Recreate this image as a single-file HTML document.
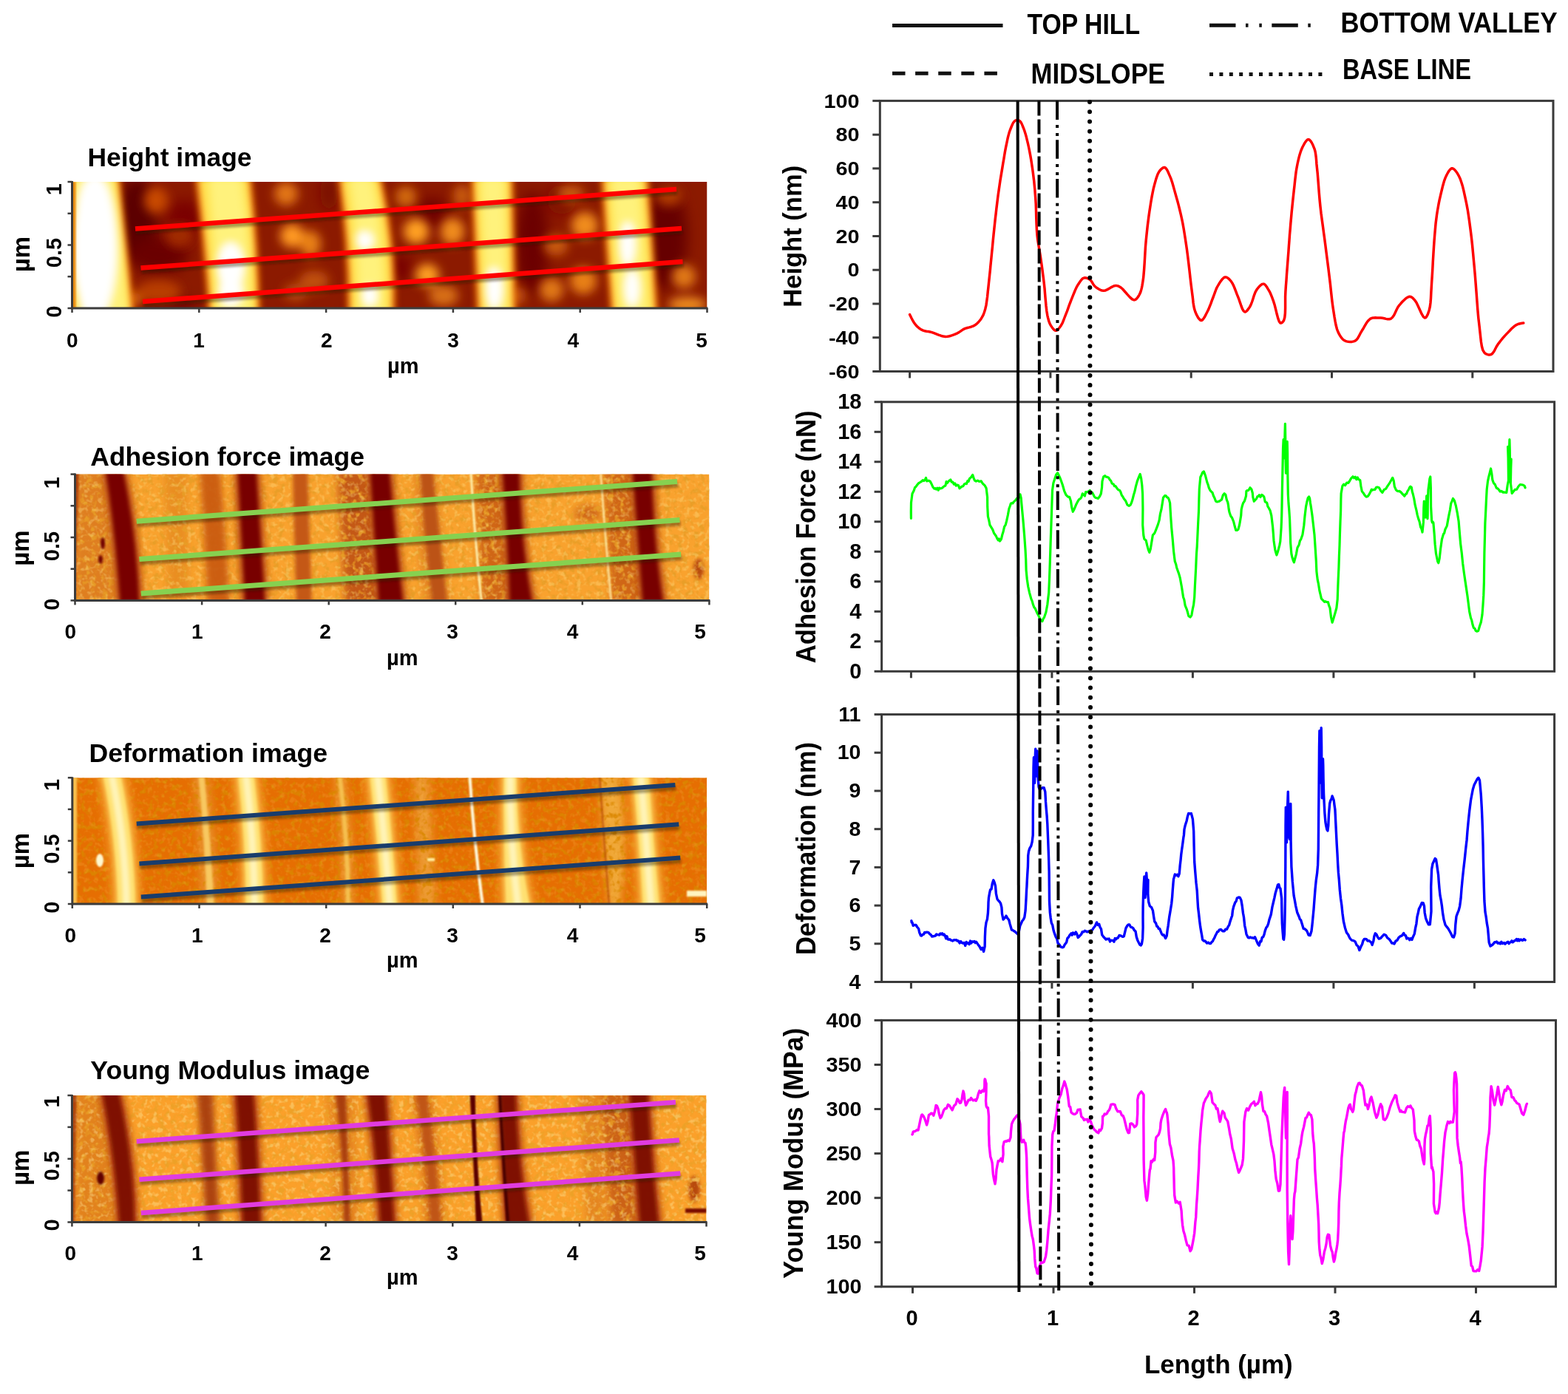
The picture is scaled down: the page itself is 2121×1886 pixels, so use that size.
<!DOCTYPE html>
<html><head><meta charset="utf-8"><title>AFM profiles</title><style>
html,body{margin:0;padding:0;background:#fff;width:2121px;height:1886px;overflow:hidden}
svg{display:block}
</style></head><body>
<svg width="2121" height="1886" viewBox="0 0 2121 1886" font-family='"Liberation Sans", Arial, sans-serif'>
<defs>
<filter id="blur1" x="-30%" y="-30%" width="160%" height="160%"><feGaussianBlur stdDeviation="0.8"/></filter>
<filter id="blur2" x="-30%" y="-30%" width="160%" height="160%"><feGaussianBlur stdDeviation="1.6"/></filter>
<filter id="blur3" x="-30%" y="-30%" width="160%" height="160%"><feGaussianBlur stdDeviation="2.6"/></filter>
<filter id="blur4" x="-30%" y="-30%" width="160%" height="160%"><feGaussianBlur stdDeviation="4"/></filter>
<filter id="blur5" x="-30%" y="-30%" width="160%" height="160%"><feGaussianBlur stdDeviation="5.5"/></filter>
<filter id="blur7" x="-30%" y="-30%" width="160%" height="160%"><feGaussianBlur stdDeviation="7"/></filter>
<filter id="blur8" x="-30%" y="-30%" width="160%" height="160%"><feGaussianBlur stdDeviation="9"/></filter>
<filter id="texd3" x="0" y="0" width="100%" height="100%"><feTurbulence type="fractalNoise" baseFrequency="0.13" numOctaves="2" seed="3"/><feColorMatrix type="matrix" values="0 0 0 0 0.8  0 0 0 0 0.34  0 0 0 0 0.02  4.2 0 0 0 -2.05"/></filter>
<filter id="texl3" x="0" y="0" width="100%" height="100%"><feTurbulence type="fractalNoise" baseFrequency="0.15" numOctaves="2" seed="13"/><feColorMatrix type="matrix" values="0 0 0 0 1  0 0 0 0 0.78  0 0 0 0 0.26  0 4.2 0 0 -2.1"/></filter>
<filter id="texd5" x="0" y="0" width="100%" height="100%"><feTurbulence type="fractalNoise" baseFrequency="0.13" numOctaves="2" seed="5"/><feColorMatrix type="matrix" values="0 0 0 0 0.7  0 0 0 0 0.24  0 0 0 0 0.0  4.2 0 0 0 -2.05"/></filter>
<filter id="texl5" x="0" y="0" width="100%" height="100%"><feTurbulence type="fractalNoise" baseFrequency="0.15" numOctaves="2" seed="15"/><feColorMatrix type="matrix" values="0 0 0 0 1  0 0 0 0 0.58  0 0 0 0 0.1  0 4.2 0 0 -2.1"/></filter>
<filter id="texd7" x="0" y="0" width="100%" height="100%"><feTurbulence type="fractalNoise" baseFrequency="0.13" numOctaves="2" seed="7"/><feColorMatrix type="matrix" values="0 0 0 0 0.82  0 0 0 0 0.36  0 0 0 0 0.02  4.2 0 0 0 -2.05"/></filter>
<filter id="texl7" x="0" y="0" width="100%" height="100%"><feTurbulence type="fractalNoise" baseFrequency="0.15" numOctaves="2" seed="17"/><feColorMatrix type="matrix" values="0 0 0 0 1  0 0 0 0 0.82  0 0 0 0 0.34  0 4.2 0 0 -2.1"/></filter>
<filter id="shadow" x="-10%" y="-100%" width="120%" height="300%"><feGaussianBlur stdDeviation="1.6"/></filter>
</defs>
<rect width="2121" height="1886" fill="#ffffff"/>
<clipPath id="clip1"><rect x="97.5" y="246" width="859" height="171"/></clipPath>
<g clip-path="url(#clip1)">
<rect x="97.5" y="246" width="859.0" height="171" fill="#8c1a00"/>
<g filter="url(#blur8)">
<ellipse cx="185" cy="300" rx="28" ry="60" fill="#5c0000"/>
<ellipse cx="215" cy="345" rx="40" ry="25" fill="#6a0000"/>
<ellipse cx="250" cy="300" rx="25" ry="30" fill="#7a0600"/>
<ellipse cx="445" cy="260" rx="12" ry="25" fill="#7a0800"/>
<ellipse cx="585" cy="287" rx="20" ry="20" fill="#700000"/>
<ellipse cx="541" cy="362" rx="16" ry="18" fill="#780400"/>
<ellipse cx="720" cy="330" rx="22" ry="70" fill="#6c0000"/>
<ellipse cx="760" cy="270" rx="20" ry="20" fill="#800800"/>
<ellipse cx="900" cy="320" rx="30" ry="70" fill="#660000"/>
<ellipse cx="500" cy="420" rx="30" ry="8" fill="#7a0800"/>
<ellipse cx="230" cy="415" rx="40" ry="10" fill="#700000"/>
</g>
<g filter="url(#blur7)">
<ellipse cx="211" cy="271" rx="16" ry="18" fill="#c84a04"/>
<ellipse cx="243" cy="319" rx="20" ry="16" fill="#a02c00"/>
<ellipse cx="215" cy="395" rx="30" ry="16" fill="#b83c04"/>
<ellipse cx="180" cy="405" rx="12" ry="10" fill="#d06008"/>
<ellipse cx="387" cy="262" rx="16" ry="16" fill="#e27614"/>
<ellipse cx="395" cy="319" rx="16" ry="16" fill="#ff9a20"/>
<ellipse cx="420" cy="330" rx="14" ry="18" fill="#e88018"/>
<ellipse cx="425" cy="380" rx="20" ry="14" fill="#c05008"/>
<ellipse cx="400" cy="395" rx="16" ry="12" fill="#b84808"/>
<ellipse cx="563" cy="313" rx="17" ry="17" fill="#ffa024"/>
<ellipse cx="612" cy="313" rx="16" ry="18" fill="#f08c1c"/>
<ellipse cx="578" cy="372" rx="16" ry="15" fill="#ffa024"/>
<ellipse cx="549" cy="266" rx="14" ry="14" fill="#d26a10"/>
<ellipse cx="600" cy="400" rx="20" ry="14" fill="#d87012"/>
<ellipse cx="625" cy="265" rx="12" ry="16" fill="#c85a0c"/>
<ellipse cx="791" cy="305" rx="18" ry="18" fill="#f08c1c"/>
<ellipse cx="752" cy="332" rx="16" ry="14" fill="#c85a0c"/>
<ellipse cx="789" cy="380" rx="18" ry="18" fill="#e88018"/>
<ellipse cx="746" cy="392" rx="16" ry="16" fill="#e07814"/>
<ellipse cx="772" cy="262" rx="18" ry="12" fill="#c85a0c"/>
<ellipse cx="700" cy="400" rx="12" ry="12" fill="#c05008"/>
<ellipse cx="925" cy="374" rx="16" ry="16" fill="#e07814"/>
<ellipse cx="930" cy="412" rx="26" ry="10" fill="#f09020"/>
<ellipse cx="905" cy="265" rx="18" ry="14" fill="#b03a04"/>
<ellipse cx="300" cy="410" rx="14" ry="8" fill="#c05008"/>
</g>
<g filter="url(#blur4)">
<path d="M92,240 L162,240 Q172.5,331.5 181,423 L92,423 Q92,331.5 92,240 Z" fill="#ff8800"/>
<path d="M264,240 L340,240 Q350,331.5 352,423 L282,423 Q275,331.5 264,240 Z" fill="#ff8800"/>
<path d="M457,240 L516,240 Q537,331.5 534,423 L470,423 Q470.5,331.5 457,240 Z" fill="#ff8800"/>
<path d="M637,240 L694,240 Q696,331.5 698,423 L645,423 Q641,331.5 637,240 Z" fill="#ff8800"/>
<path d="M813,240 L877,240 Q884.5,331.5 890,423 L826,423 Q818.5,331.5 813,240 Z" fill="#ff8800"/>
<path d="M98,240 L156,240 Q166.5,331.5 175,423 L98,423 Q98,331.5 98,240 Z" fill="#ffe250"/>
<path d="M270,240 L334,240 Q344,331.5 346,423 L288,423 Q281,331.5 270,240 Z" fill="#ffe250"/>
<path d="M463,240 L510,240 Q531,331.5 528,423 L476,423 Q476.5,331.5 463,240 Z" fill="#ffe250"/>
<path d="M643,240 L688,240 Q690,331.5 692,423 L651,423 Q647,331.5 643,240 Z" fill="#ffe250"/>
<path d="M819,240 L871,240 Q878.5,331.5 884,423 L832,423 Q824.5,331.5 819,240 Z" fill="#ffe250"/>
</g>
<g filter="url(#blur5)">
<path d="M101,240 L153,240 Q165.5,331.5 172,423 L106,423 Q102.5,331.5 101,240 Z" fill="#fff27c"/>
<path d="M282,240 L326,240 Q339,331.5 340,423 L294,423 Q290,331.5 282,240 Z" fill="#fff27c"/>
<path d="M472,240 L503,240 Q520.5,331.5 520,423 L484,423 Q486,331.5 472,240 Z" fill="#fff27c"/>
<path d="M650,240 L682,240 Q684,331.5 686,423 L658,423 Q654,331.5 650,240 Z" fill="#fff27c"/>
<path d="M827,240 L864,240 Q871.5,331.5 877,423 L839,423 Q831,331.5 827,240 Z" fill="#fff27c"/>
<ellipse cx="128" cy="335" rx="30" ry="100" fill="#ffffff"/>
<ellipse cx="312" cy="360" rx="18" ry="32" fill="#ffffff"/>
<ellipse cx="312" cy="395" rx="16" ry="20" fill="#ffffff"/>
<ellipse cx="493" cy="325" rx="12" ry="12" fill="#ffffff"/>
<ellipse cx="500" cy="400" rx="10" ry="14" fill="#ffffff"/>
<ellipse cx="668" cy="390" rx="12" ry="28" fill="#ffffff"/>
<ellipse cx="849" cy="330" rx="10" ry="30" fill="#ffffff"/>
<ellipse cx="855" cy="390" rx="10" ry="25" fill="#ffffff"/>
</g>
<rect x="97.5" y="246" width="5" height="171" fill="#e88a10" filter="url(#blur1)"/>
</g>
<clipPath id="clip2"><rect x="101.5" y="641.6" width="857.9" height="170.8"/></clipPath>
<g clip-path="url(#clip2)">
<rect x="101.5" y="641.6" width="857.9" height="170.79999999999995" fill="#f9a22e"/>
<path d="M101,635.6 L140,635.6 Q152,727 156,818.4 L101,818.4 Q101,727 101,635.6 Z" fill="#dc7a1c" fill-opacity="0.9" filter="url(#blur5)"/>
<path d="M222,635.6 L252,635.6 Q254,727 256,818.4 L228,818.4 Q225,727 222,635.6 Z" fill="#e2841e" fill-opacity="0.7" filter="url(#blur5)"/>
<path d="M456,635.6 L500,635.6 Q506,727 512,818.4 L467,818.4 Q460.5,727 456,635.6 Z" fill="#c45814" filter="url(#blur5)"/>
<path d="M643,635.6 L679,635.6 Q684,727 689,818.4 L651,818.4 Q645,727 643,635.6 Z" fill="#d06618" filter="url(#blur5)"/>
<path d="M815,635.6 L855,635.6 Q861.5,727 870,818.4 L827,818.4 Q821,727 815,635.6 Z" fill="#d06618" filter="url(#blur5)"/>
<path d="M560,635.6 L590,635.6 Q596,727 610,818.4 L575,818.4 Q562.5,727 560,635.6 Z" fill="#de7c1e" fill-opacity="0.8" filter="url(#blur5)"/>
<ellipse cx="795" cy="695" rx="18" ry="12" fill="#d06818" filter="url(#blur5)"/>
<ellipse cx="945" cy="770" rx="7" ry="14" fill="#b84a10" filter="url(#blur3)"/>
<rect x="101.5" y="641.6" width="857.9" height="170.79999999999995" filter="url(#texd3)" opacity="0.9"/>
<rect x="101.5" y="641.6" width="857.9" height="170.79999999999995" filter="url(#texl3)" opacity="0.35"/>
<path d="M270,635.6 L298,635.6 Q305.5,727 311,818.4 L281,818.4 Q276.5,727 270,635.6 Z" fill="#c85812" fill-opacity="0.9" filter="url(#blur4)"/>
<path d="M396,635.6 L416,635.6 Q419,727 422,818.4 L401,818.4 Q397.5,727 396,635.6 Z" fill="#c45812" filter="url(#blur3)"/>
<path d="M568,635.6 L585,635.6 Q595,727 605,818.4 L585,818.4 Q573.5,727 568,635.6 Z" fill="#bc5214" filter="url(#blur3)"/>
<path d="M137,635.6 L172,635.6 Q191,727 194,818.4 L157,818.4 Q151,727 137,635.6 Z" fill="#b4400c" fill-opacity="0.9" filter="url(#blur4)"/>
<path d="M316,635.6 L352,635.6 Q358,727 364,818.4 L326,818.4 Q321,727 316,635.6 Z" fill="#b4400c" fill-opacity="0.9" filter="url(#blur4)"/>
<path d="M495,635.6 L532,635.6 Q540.5,727 551,818.4 L507,818.4 Q501,727 495,635.6 Z" fill="#b4400c" fill-opacity="0.9" filter="url(#blur4)"/>
<path d="M674,635.6 L708,635.6 Q709,727 726,818.4 L684,818.4 Q681,727 674,635.6 Z" fill="#b4400c" fill-opacity="0.9" filter="url(#blur4)"/>
<path d="M850,635.6 L887,635.6 Q889,727 903,818.4 L864,818.4 Q857,727 850,635.6 Z" fill="#b4400c" fill-opacity="0.9" filter="url(#blur4)"/>
<path d="M143,635.6 L166,635.6 Q185,727 188,818.4 L163,818.4 Q157,727 143,635.6 Z" fill="#780200" filter="url(#blur3)"/>
<path d="M322,635.6 L346,635.6 Q352,727 358,818.4 L332,818.4 Q327,727 322,635.6 Z" fill="#780200" filter="url(#blur3)"/>
<path d="M501,635.6 L526,635.6 Q534.5,727 545,818.4 L513,818.4 Q507,727 501,635.6 Z" fill="#780200" filter="url(#blur3)"/>
<path d="M680,635.6 L702,635.6 Q703,727 720,818.4 L690,818.4 Q687,727 680,635.6 Z" fill="#780200" filter="url(#blur3)"/>
<path d="M856,635.6 L881,635.6 Q883,727 897,818.4 L870,818.4 Q863,727 856,635.6 Z" fill="#780200" filter="url(#blur3)"/>
<ellipse cx="139" cy="735" rx="3" ry="8" fill="#700000" filter="url(#blur2)"/>
<ellipse cx="136" cy="757" rx="3" ry="6" fill="#700000" filter="url(#blur2)"/>
<path d="M101,635.6 L107,635.6 Q103.5,727 102,818.4 L101,818.4 Q101,727 101,635.6 Z" fill="#901800" fill-opacity="0.7" filter="url(#blur2)"/>
<g filter="url(#blur1)">
<path d="M637,640 Q642,728 651.5,815" stroke="#fff2b0" stroke-width="3" fill="none"/>
<path d="M812.6,640 Q818.5,728 827,815" stroke="#ffe8a0" stroke-width="2.5" fill="none"/>
</g>
</g>
<clipPath id="clip3"><rect x="97.8" y="1052.2" width="858.4" height="170.8"/></clipPath>
<g clip-path="url(#clip3)">
<rect x="97.8" y="1052.2" width="858.4000000000001" height="170.79999999999995" fill="#e66e02"/>
<path d="M262,1046.2 L282,1046.2 Q291,1137.6 296,1229 L273,1229 Q268.5,1137.6 262,1046.2 Z" fill="#e8902a" filter="url(#blur5)"/>
<path d="M560,1046.2 L580,1046.2 Q585,1137.6 590,1229 L567,1229 Q562.5,1137.6 560,1046.2 Z" fill="#ec9a30" filter="url(#blur5)"/>
<path d="M810,1046.2 L838,1046.2 Q852,1137.6 838,1229 L824,1229 Q815,1137.6 810,1046.2 Z" fill="#f0a838" filter="url(#blur5)"/>
<path d="M452,1046.2 L466,1046.2 Q478,1137.6 478,1229 L464,1229 Q462,1137.6 452,1046.2 Z" fill="#eb9a30" filter="url(#blur5)"/>
<rect x="97.8" y="1052.2" width="858.4000000000001" height="170.79999999999995" filter="url(#texd5)" opacity="0.85"/>
<rect x="97.8" y="1052.2" width="858.4000000000001" height="170.79999999999995" filter="url(#texl5)" opacity="0.18"/>
<path d="M131,1046.2 L170.5,1046.2 Q189.2,1137.6 191,1229 L151.6,1229 Q150.1,1137.6 131,1046.2 Z" fill="#f49a2a" filter="url(#blur5)"/>
<path d="M314,1046.2 L351,1046.2 Q362.5,1137.6 364,1229 L325,1229 Q324.5,1137.6 314,1046.2 Z" fill="#f49a2a" filter="url(#blur5)"/>
<path d="M492,1046.2 L529,1046.2 Q539,1137.6 545,1229 L510,1229 Q503,1137.6 492,1046.2 Z" fill="#f49a2a" filter="url(#blur5)"/>
<path d="M674,1046.2 L706,1046.2 Q706.5,1137.6 725,1229 L677,1229 Q672.5,1137.6 674,1046.2 Z" fill="#f49a2a" filter="url(#blur5)"/>
<path d="M848,1046.2 L885,1046.2 Q891.5,1137.6 900,1229 L862,1229 Q857,1137.6 848,1046.2 Z" fill="#f49a2a" filter="url(#blur5)"/>
<path d="M136,1046.2 L165.5,1046.2 Q184.2,1137.6 186,1229 L156.6,1229 Q155.1,1137.6 136,1046.2 Z" fill="#f8bc48" filter="url(#blur3)"/>
<path d="M319,1046.2 L346,1046.2 Q357.5,1137.6 359,1229 L330,1229 Q329.5,1137.6 319,1046.2 Z" fill="#f8bc48" filter="url(#blur3)"/>
<path d="M497,1046.2 L524,1046.2 Q534,1137.6 540,1229 L515,1229 Q508,1137.6 497,1046.2 Z" fill="#f8bc48" filter="url(#blur3)"/>
<path d="M679,1046.2 L701,1046.2 Q701.5,1137.6 720,1229 L682,1229 Q677.5,1137.6 679,1046.2 Z" fill="#f8bc48" filter="url(#blur3)"/>
<path d="M853,1046.2 L880,1046.2 Q886.5,1137.6 895,1229 L867,1229 Q862,1137.6 853,1046.2 Z" fill="#f8bc48" filter="url(#blur3)"/>
<path d="M139,1046.2 L162.5,1046.2 Q181.2,1137.6 183,1229 L159.6,1229 Q158.1,1137.6 139,1046.2 Z" fill="#ffe070" filter="url(#blur2)"/>
<path d="M322,1046.2 L343,1046.2 Q354.5,1137.6 356,1229 L333,1229 Q332.5,1137.6 322,1046.2 Z" fill="#ffe070" filter="url(#blur2)"/>
<path d="M500,1046.2 L521,1046.2 Q531,1137.6 537,1229 L518,1229 Q511,1137.6 500,1046.2 Z" fill="#ffe070" filter="url(#blur2)"/>
<path d="M682,1046.2 L698,1046.2 Q698.5,1137.6 717,1229 L685,1229 Q680.5,1137.6 682,1046.2 Z" fill="#ffe070" filter="url(#blur2)"/>
<path d="M856,1046.2 L877,1046.2 Q883.5,1137.6 892,1229 L870,1229 Q865,1137.6 856,1046.2 Z" fill="#ffe070" filter="url(#blur2)"/>
<path d="M145.8,1046.2 L155.8,1046.2 Q174.7,1137.6 176.3,1229 L166.3,1229 Q164.7,1137.6 145.8,1046.2 Z" fill="#fff6c0" fill-opacity="0.9" filter="url(#blur3)"/>
<path d="M327.5,1046.2 L337.5,1046.2 Q348.5,1137.6 349.5,1229 L339.5,1229 Q338.5,1137.6 327.5,1046.2 Z" fill="#fff6c0" fill-opacity="0.9" filter="url(#blur3)"/>
<path d="M505.5,1046.2 L515.5,1046.2 Q526,1137.6 532.5,1229 L522.5,1229 Q516,1137.6 505.5,1046.2 Z" fill="#fff6c0" fill-opacity="0.9" filter="url(#blur3)"/>
<path d="M685,1046.2 L695,1046.2 Q694.5,1137.6 706,1229 L696,1229 Q684.5,1137.6 685,1046.2 Z" fill="#fff6c0" fill-opacity="0.9" filter="url(#blur3)"/>
<path d="M861.5,1046.2 L871.5,1046.2 Q879.2,1137.6 886,1229 L876,1229 Q869.2,1137.6 861.5,1046.2 Z" fill="#fff6c0" fill-opacity="0.9" filter="url(#blur3)"/>
<path d="M268,1046.2 L276,1046.2 Q285,1137.6 290,1229 L280,1229 Q277,1137.6 268,1046.2 Z" fill="#f8c860" filter="url(#blur2)"/>
<path d="M456,1046.2 L462,1046.2 Q474,1137.6 474,1229 L468,1229 Q468,1137.6 456,1046.2 Z" fill="#f6c050" filter="url(#blur2)"/>
<path d="M98,1046.2 L104,1046.2 Q104,1137.6 104,1229 L98,1229 Q98,1137.6 98,1046.2 Z" fill="#f8c050" filter="url(#blur1)"/>
<g filter="url(#blur1)">
<path d="M635.4,1050 Q641,1138 653,1225" stroke="#fffbe0" stroke-width="4" fill="none"/>
<path d="M811,1050 Q817,1138 824,1225" stroke="#a83800" stroke-width="2" fill="none" opacity="0.7"/>
<ellipse cx="135" cy="1164" rx="5" ry="9" fill="#fff8d0"/>
<rect x="578" y="1161" width="10" height="4" fill="#fff0a0"/>
<rect x="929" y="1205" width="27" height="8" fill="#fff4c0"/>
</g>
</g>
<clipPath id="clip4"><rect x="97.4" y="1482" width="858.1" height="171.5"/></clipPath>
<g clip-path="url(#clip4)">
<rect x="97.4" y="1482" width="858.1" height="171.5" fill="#fba02a"/>
<path d="M101,1476 L136,1476 Q150,1567.8 156,1659.5 L101,1659.5 Q101,1567.8 101,1476 Z" fill="#dc7a1c" fill-opacity="0.8" filter="url(#blur5)"/>
<path d="M783,1476 L812,1476 Q816,1567.8 820,1659.5 L793,1659.5 Q788,1567.8 783,1476 Z" fill="#dc7a1c" fill-opacity="0.7" filter="url(#blur5)"/>
<path d="M812,1476 L851,1476 Q859.5,1567.8 862,1659.5 L826,1659.5 Q817,1567.8 812,1476 Z" fill="#cc6216" filter="url(#blur5)"/>
<path d="M556,1476 L582,1476 Q596,1567.8 602,1659.5 L576,1659.5 Q572,1567.8 556,1476 Z" fill="#d06a18" fill-opacity="0.9" filter="url(#blur5)"/>
<path d="M440,1476 L480,1476 Q484,1567.8 488,1659.5 L452,1659.5 Q450,1567.8 440,1476 Z" fill="#de7c1e" fill-opacity="0.7" filter="url(#blur5)"/>
<ellipse cx="939" cy="1609" rx="8" ry="18" fill="#b84a10" filter="url(#blur3)"/>
<rect x="97.4" y="1482" width="858.1" height="171.5" filter="url(#texd7)" opacity="0.8"/>
<rect x="97.4" y="1482" width="858.1" height="171.5" filter="url(#texl7)" opacity="0.4"/>
<path d="M266,1476 L288,1476 Q291,1567.8 298,1659.5 L278,1659.5 Q274,1567.8 266,1476 Z" fill="#a83c0c" fill-opacity="0.95" filter="url(#blur4)"/>
<path d="M453,1476 L468,1476 Q471,1567.8 474,1659.5 L465,1659.5 Q465,1567.8 453,1476 Z" fill="#a83c0c" filter="url(#blur3)"/>
<path d="M562,1476 L577,1476 Q589,1567.8 597,1659.5 L582,1659.5 Q578,1567.8 562,1476 Z" fill="#c05412" filter="url(#blur3)"/>
<path d="M132,1476 L166,1476 Q187,1567.8 188,1659.5 L156,1659.5 Q150,1567.8 132,1476 Z" fill="#b4400c" fill-opacity="0.9" filter="url(#blur4)"/>
<path d="M313,1476 L348,1476 Q355,1567.8 358,1659.5 L323,1659.5 Q320,1567.8 313,1476 Z" fill="#b4400c" fill-opacity="0.9" filter="url(#blur4)"/>
<path d="M491,1476 L527,1476 Q533,1567.8 539,1659.5 L509,1659.5 Q504,1567.8 491,1476 Z" fill="#b4400c" fill-opacity="0.9" filter="url(#blur4)"/>
<path d="M670,1476 L703,1476 Q705.5,1567.8 722,1659.5 L680,1659.5 Q673,1567.8 670,1476 Z" fill="#b4400c" fill-opacity="0.9" filter="url(#blur4)"/>
<path d="M846,1476 L882,1476 Q886.5,1567.8 897,1659.5 L860,1659.5 Q853,1567.8 846,1476 Z" fill="#b4400c" fill-opacity="0.9" filter="url(#blur4)"/>
<path d="M138,1476 L160,1476 Q181,1567.8 182,1659.5 L162,1659.5 Q156,1567.8 138,1476 Z" fill="#7c0800" fill-opacity="0.95" filter="url(#blur3)"/>
<path d="M319,1476 L342,1476 Q349,1567.8 352,1659.5 L329,1659.5 Q326,1567.8 319,1476 Z" fill="#7c0800" fill-opacity="0.95" filter="url(#blur3)"/>
<path d="M497,1476 L521,1476 Q527,1567.8 533,1659.5 L515,1659.5 Q510,1567.8 497,1476 Z" fill="#7c0800" fill-opacity="0.95" filter="url(#blur3)"/>
<path d="M676,1476 L697,1476 Q699.5,1567.8 716,1659.5 L686,1659.5 Q679,1567.8 676,1476 Z" fill="#7c0800" fill-opacity="0.95" filter="url(#blur3)"/>
<path d="M852,1476 L876,1476 Q880.5,1567.8 891,1659.5 L866,1659.5 Q859,1567.8 852,1476 Z" fill="#7c0800" fill-opacity="0.95" filter="url(#blur3)"/>
<path d="M635.4,1476 L642.7,1476 Q643.6,1567.8 653,1659.5 L644,1659.5 Q640.3,1567.8 635.4,1476 Z" fill="#5a0000" filter="url(#blur1)"/>
<path d="M674,1476 L678,1476 Q682,1567.8 690,1659.5 L685,1659.5 Q678.5,1567.8 674,1476 Z" fill="#4a0000" filter="url(#blur1)"/>
<ellipse cx="136" cy="1594" rx="5" ry="9" fill="#600000" filter="url(#blur2)"/>
<path d="M97.5,1476 L104,1476 Q101.5,1567.8 101,1659.5 L97.5,1659.5 Q97.5,1567.8 97.5,1476 Z" fill="#901800" fill-opacity="0.7" filter="url(#blur2)"/>
<rect x="927" y="1635" width="29" height="6" fill="#7a0a00" filter="url(#blur1)"/>
</g>
<text x="118.5" y="224.5" font-size="35.5" font-weight="bold" textLength="222" lengthAdjust="spacingAndGlyphs">Height image</text>
<line x1="184" y1="314" x2="916" y2="260.5" stroke="#2a1a00" stroke-opacity="0.4" stroke-width="6.5" filter="url(#shadow)"/>
<line x1="191.5" y1="367" x2="923" y2="313.5" stroke="#2a1a00" stroke-opacity="0.4" stroke-width="6.5" filter="url(#shadow)"/>
<line x1="194" y1="412.5" x2="924.5" y2="358.5" stroke="#2a1a00" stroke-opacity="0.4" stroke-width="6.5" filter="url(#shadow)"/>
<line x1="183" y1="309.5" x2="915" y2="256" stroke="#ff0000" stroke-width="6.5"/>
<line x1="190.5" y1="362.5" x2="922" y2="309" stroke="#ff0000" stroke-width="6.5"/>
<line x1="193" y1="408" x2="923.5" y2="354" stroke="#ff0000" stroke-width="6.5"/>
<path d="M97.5,245 V417 H957.5" fill="none" stroke="#3c3c3c" stroke-width="3"/>
<line x1="91.5" y1="417" x2="97.5" y2="417" stroke="#3c3c3c" stroke-width="2.5"/>
<line x1="91.5" y1="374.2" x2="97.5" y2="374.2" stroke="#3c3c3c" stroke-width="2.5"/>
<line x1="91.5" y1="331.5" x2="97.5" y2="331.5" stroke="#3c3c3c" stroke-width="2.5"/>
<line x1="91.5" y1="288.8" x2="97.5" y2="288.8" stroke="#3c3c3c" stroke-width="2.5"/>
<line x1="91.5" y1="246" x2="97.5" y2="246" stroke="#3c3c3c" stroke-width="2.5"/>
<line x1="97.5" y1="417" x2="97.5" y2="423" stroke="#3c3c3c" stroke-width="2.5"/>
<line x1="269.3" y1="417" x2="269.3" y2="423" stroke="#3c3c3c" stroke-width="2.5"/>
<line x1="441.1" y1="417" x2="441.1" y2="423" stroke="#3c3c3c" stroke-width="2.5"/>
<line x1="612.9" y1="417" x2="612.9" y2="423" stroke="#3c3c3c" stroke-width="2.5"/>
<line x1="784.7" y1="417" x2="784.7" y2="423" stroke="#3c3c3c" stroke-width="2.5"/>
<line x1="956.5" y1="417" x2="956.5" y2="423" stroke="#3c3c3c" stroke-width="2.5"/>
<text x="97.8" y="470" font-size="28" font-weight="bold" text-anchor="middle">0</text>
<text x="269" y="470" font-size="28" font-weight="bold" text-anchor="middle">1</text>
<text x="441.8" y="470" font-size="28" font-weight="bold" text-anchor="middle">2</text>
<text x="613" y="470" font-size="28" font-weight="bold" text-anchor="middle">3</text>
<text x="775.4" y="470" font-size="28" font-weight="bold" text-anchor="middle">4</text>
<text x="949" y="470" font-size="28" font-weight="bold" text-anchor="middle">5</text>
<text transform="translate(82.5,256.3) rotate(-90)" font-size="29" font-weight="bold" text-anchor="middle">1</text>
<text transform="translate(82.5,342) rotate(-90)" font-size="29" font-weight="bold" text-anchor="middle">0.5</text>
<text transform="translate(82.5,421.6) rotate(-90)" font-size="29" font-weight="bold" text-anchor="middle">0</text>
<text transform="translate(40,344) rotate(-90)" font-size="33" font-weight="bold" text-anchor="middle">µm</text>
<text x="524" y="505" font-size="29" font-weight="bold">µm</text>
<text x="122.3" y="630.1" font-size="35.5" font-weight="bold" textLength="370.7" lengthAdjust="spacingAndGlyphs">Adhesion force image</text>
<line x1="185.7" y1="709.7" x2="917" y2="655.9" stroke="#2a1a00" stroke-opacity="0.4" stroke-width="7" filter="url(#shadow)"/>
<line x1="189.4" y1="761.1" x2="920.5" y2="708" stroke="#2a1a00" stroke-opacity="0.4" stroke-width="7" filter="url(#shadow)"/>
<line x1="191.8" y1="807.6" x2="922.2" y2="754.5" stroke="#2a1a00" stroke-opacity="0.4" stroke-width="7" filter="url(#shadow)"/>
<line x1="184.7" y1="705.2" x2="916" y2="651.4" stroke="#86d150" stroke-width="7"/>
<line x1="188.4" y1="756.6" x2="919.5" y2="703.5" stroke="#86d150" stroke-width="7"/>
<line x1="190.8" y1="803.1" x2="921.2" y2="750" stroke="#86d150" stroke-width="7"/>
<path d="M101.5,640.6 V812.4 H960.4" fill="none" stroke="#3c3c3c" stroke-width="3"/>
<line x1="95.5" y1="812.4" x2="101.5" y2="812.4" stroke="#3c3c3c" stroke-width="2.5"/>
<line x1="95.5" y1="769.7" x2="101.5" y2="769.7" stroke="#3c3c3c" stroke-width="2.5"/>
<line x1="95.5" y1="727" x2="101.5" y2="727" stroke="#3c3c3c" stroke-width="2.5"/>
<line x1="95.5" y1="684.3" x2="101.5" y2="684.3" stroke="#3c3c3c" stroke-width="2.5"/>
<line x1="95.5" y1="641.6" x2="101.5" y2="641.6" stroke="#3c3c3c" stroke-width="2.5"/>
<line x1="101.5" y1="812.4" x2="101.5" y2="818.4" stroke="#3c3c3c" stroke-width="2.5"/>
<line x1="273.1" y1="812.4" x2="273.1" y2="818.4" stroke="#3c3c3c" stroke-width="2.5"/>
<line x1="444.7" y1="812.4" x2="444.7" y2="818.4" stroke="#3c3c3c" stroke-width="2.5"/>
<line x1="616.2" y1="812.4" x2="616.2" y2="818.4" stroke="#3c3c3c" stroke-width="2.5"/>
<line x1="787.8" y1="812.4" x2="787.8" y2="818.4" stroke="#3c3c3c" stroke-width="2.5"/>
<line x1="959.4" y1="812.4" x2="959.4" y2="818.4" stroke="#3c3c3c" stroke-width="2.5"/>
<text x="95.4" y="864" font-size="28" font-weight="bold" text-anchor="middle">0</text>
<text x="266.8" y="864" font-size="28" font-weight="bold" text-anchor="middle">1</text>
<text x="440" y="864" font-size="28" font-weight="bold" text-anchor="middle">2</text>
<text x="612" y="864" font-size="28" font-weight="bold" text-anchor="middle">3</text>
<text x="774.6" y="864" font-size="28" font-weight="bold" text-anchor="middle">4</text>
<text x="947" y="864" font-size="28" font-weight="bold" text-anchor="middle">5</text>
<text transform="translate(80,653.2) rotate(-90)" font-size="29" font-weight="bold" text-anchor="middle">1</text>
<text transform="translate(80,739) rotate(-90)" font-size="29" font-weight="bold" text-anchor="middle">0.5</text>
<text transform="translate(80,817.8) rotate(-90)" font-size="29" font-weight="bold" text-anchor="middle">0</text>
<text transform="translate(38.5,741.5) rotate(-90)" font-size="33" font-weight="bold" text-anchor="middle">µm</text>
<text x="523" y="900" font-size="29" font-weight="bold">µm</text>
<text x="120.5" y="1030.6" font-size="35.5" font-weight="bold" textLength="322.5" lengthAdjust="spacingAndGlyphs">Deformation image</text>
<line x1="185.7" y1="1119" x2="914.4" y2="1066.5" stroke="#2a1a00" stroke-opacity="0.4" stroke-width="6" filter="url(#shadow)"/>
<line x1="189.4" y1="1172.9" x2="919.3" y2="1119.8" stroke="#2a1a00" stroke-opacity="0.4" stroke-width="6" filter="url(#shadow)"/>
<line x1="191.8" y1="1218.1" x2="921.3" y2="1165" stroke="#2a1a00" stroke-opacity="0.4" stroke-width="6" filter="url(#shadow)"/>
<line x1="184.7" y1="1114.5" x2="913.4" y2="1062" stroke="#183c6c" stroke-width="6"/>
<line x1="188.4" y1="1168.4" x2="918.3" y2="1115.3" stroke="#183c6c" stroke-width="6"/>
<line x1="190.8" y1="1213.6" x2="920.3" y2="1160.5" stroke="#183c6c" stroke-width="6"/>
<path d="M97.8,1051.2 V1223 H957.2" fill="none" stroke="#3c3c3c" stroke-width="3"/>
<line x1="91.8" y1="1223" x2="97.8" y2="1223" stroke="#3c3c3c" stroke-width="2.5"/>
<line x1="91.8" y1="1180.3" x2="97.8" y2="1180.3" stroke="#3c3c3c" stroke-width="2.5"/>
<line x1="91.8" y1="1137.6" x2="97.8" y2="1137.6" stroke="#3c3c3c" stroke-width="2.5"/>
<line x1="91.8" y1="1094.9" x2="97.8" y2="1094.9" stroke="#3c3c3c" stroke-width="2.5"/>
<line x1="91.8" y1="1052.2" x2="97.8" y2="1052.2" stroke="#3c3c3c" stroke-width="2.5"/>
<line x1="97.8" y1="1223" x2="97.8" y2="1229" stroke="#3c3c3c" stroke-width="2.5"/>
<line x1="269.5" y1="1223" x2="269.5" y2="1229" stroke="#3c3c3c" stroke-width="2.5"/>
<line x1="441.2" y1="1223" x2="441.2" y2="1229" stroke="#3c3c3c" stroke-width="2.5"/>
<line x1="612.8" y1="1223" x2="612.8" y2="1229" stroke="#3c3c3c" stroke-width="2.5"/>
<line x1="784.5" y1="1223" x2="784.5" y2="1229" stroke="#3c3c3c" stroke-width="2.5"/>
<line x1="956.2" y1="1223" x2="956.2" y2="1229" stroke="#3c3c3c" stroke-width="2.5"/>
<text x="95.4" y="1275" font-size="28" font-weight="bold" text-anchor="middle">0</text>
<text x="266.8" y="1275" font-size="28" font-weight="bold" text-anchor="middle">1</text>
<text x="440" y="1275" font-size="28" font-weight="bold" text-anchor="middle">2</text>
<text x="612" y="1275" font-size="28" font-weight="bold" text-anchor="middle">3</text>
<text x="774.6" y="1275" font-size="28" font-weight="bold" text-anchor="middle">4</text>
<text x="947" y="1275" font-size="28" font-weight="bold" text-anchor="middle">5</text>
<text transform="translate(80,1062) rotate(-90)" font-size="29" font-weight="bold" text-anchor="middle">1</text>
<text transform="translate(80,1148.6) rotate(-90)" font-size="29" font-weight="bold" text-anchor="middle">0.5</text>
<text transform="translate(80,1227.7) rotate(-90)" font-size="29" font-weight="bold" text-anchor="middle">0</text>
<text transform="translate(38.5,1151) rotate(-90)" font-size="33" font-weight="bold" text-anchor="middle">µm</text>
<text x="523" y="1309" font-size="29" font-weight="bold">µm</text>
<text x="122.3" y="1459.9" font-size="35.5" font-weight="bold" textLength="378" lengthAdjust="spacingAndGlyphs">Young Modulus image</text>
<line x1="185.7" y1="1548.8" x2="914.9" y2="1495.7" stroke="#2a1a00" stroke-opacity="0.4" stroke-width="6.5" filter="url(#shadow)"/>
<line x1="189.4" y1="1600.2" x2="919.8" y2="1547.1" stroke="#2a1a00" stroke-opacity="0.4" stroke-width="6.5" filter="url(#shadow)"/>
<line x1="191.8" y1="1645.5" x2="921.3" y2="1591.9" stroke="#2a1a00" stroke-opacity="0.4" stroke-width="6.5" filter="url(#shadow)"/>
<line x1="184.7" y1="1544.3" x2="913.9" y2="1491.2" stroke="#e03ce0" stroke-width="6.5"/>
<line x1="188.4" y1="1595.7" x2="918.8" y2="1542.6" stroke="#e03ce0" stroke-width="6.5"/>
<line x1="190.8" y1="1641" x2="920.3" y2="1587.4" stroke="#e03ce0" stroke-width="6.5"/>
<path d="M97.4,1481 V1653.5 H956.5" fill="none" stroke="#3c3c3c" stroke-width="3"/>
<line x1="91.4" y1="1653.5" x2="97.4" y2="1653.5" stroke="#3c3c3c" stroke-width="2.5"/>
<line x1="91.4" y1="1610.6" x2="97.4" y2="1610.6" stroke="#3c3c3c" stroke-width="2.5"/>
<line x1="91.4" y1="1567.8" x2="97.4" y2="1567.8" stroke="#3c3c3c" stroke-width="2.5"/>
<line x1="91.4" y1="1524.9" x2="97.4" y2="1524.9" stroke="#3c3c3c" stroke-width="2.5"/>
<line x1="91.4" y1="1482" x2="97.4" y2="1482" stroke="#3c3c3c" stroke-width="2.5"/>
<line x1="97.4" y1="1653.5" x2="97.4" y2="1659.5" stroke="#3c3c3c" stroke-width="2.5"/>
<line x1="269" y1="1653.5" x2="269" y2="1659.5" stroke="#3c3c3c" stroke-width="2.5"/>
<line x1="440.6" y1="1653.5" x2="440.6" y2="1659.5" stroke="#3c3c3c" stroke-width="2.5"/>
<line x1="612.3" y1="1653.5" x2="612.3" y2="1659.5" stroke="#3c3c3c" stroke-width="2.5"/>
<line x1="783.9" y1="1653.5" x2="783.9" y2="1659.5" stroke="#3c3c3c" stroke-width="2.5"/>
<line x1="955.5" y1="1653.5" x2="955.5" y2="1659.5" stroke="#3c3c3c" stroke-width="2.5"/>
<text x="95.4" y="1704.5" font-size="28" font-weight="bold" text-anchor="middle">0</text>
<text x="266.8" y="1704.5" font-size="28" font-weight="bold" text-anchor="middle">1</text>
<text x="440" y="1704.5" font-size="28" font-weight="bold" text-anchor="middle">2</text>
<text x="612" y="1704.5" font-size="28" font-weight="bold" text-anchor="middle">3</text>
<text x="774.6" y="1704.5" font-size="28" font-weight="bold" text-anchor="middle">4</text>
<text x="947" y="1704.5" font-size="28" font-weight="bold" text-anchor="middle">5</text>
<text transform="translate(80,1490.5) rotate(-90)" font-size="29" font-weight="bold" text-anchor="middle">1</text>
<text transform="translate(80,1577.4) rotate(-90)" font-size="29" font-weight="bold" text-anchor="middle">0.5</text>
<text transform="translate(80,1657.5) rotate(-90)" font-size="29" font-weight="bold" text-anchor="middle">0</text>
<text transform="translate(38.5,1579.8) rotate(-90)" font-size="33" font-weight="bold" text-anchor="middle">µm</text>
<text x="523" y="1738" font-size="29" font-weight="bold">µm</text>
<rect x="1190.3" y="136.4" width="910.7" height="366.1" fill="none" stroke="#3a3a3a" stroke-width="3"/>
<line x1="1180.3" y1="136.4" x2="1190.3" y2="136.4" stroke="#3a3a3a" stroke-width="3"/>
<text transform="translate(1162.5,145.6) scale(1.13,1)" font-size="25.5" font-weight="bold" text-anchor="end">100</text>
<line x1="1180.3" y1="182.2" x2="1190.3" y2="182.2" stroke="#3a3a3a" stroke-width="3"/>
<text transform="translate(1162.5,191.3) scale(1.13,1)" font-size="25.5" font-weight="bold" text-anchor="end">80</text>
<line x1="1180.3" y1="227.9" x2="1190.3" y2="227.9" stroke="#3a3a3a" stroke-width="3"/>
<text transform="translate(1162.5,237.1) scale(1.13,1)" font-size="25.5" font-weight="bold" text-anchor="end">60</text>
<line x1="1180.3" y1="273.7" x2="1190.3" y2="273.7" stroke="#3a3a3a" stroke-width="3"/>
<text transform="translate(1162.5,282.9) scale(1.13,1)" font-size="25.5" font-weight="bold" text-anchor="end">40</text>
<line x1="1180.3" y1="319.5" x2="1190.3" y2="319.5" stroke="#3a3a3a" stroke-width="3"/>
<text transform="translate(1162.5,328.6) scale(1.13,1)" font-size="25.5" font-weight="bold" text-anchor="end">20</text>
<line x1="1180.3" y1="365.2" x2="1190.3" y2="365.2" stroke="#3a3a3a" stroke-width="3"/>
<text transform="translate(1162.5,374.4) scale(1.13,1)" font-size="25.5" font-weight="bold" text-anchor="end">0</text>
<line x1="1180.3" y1="411" x2="1190.3" y2="411" stroke="#3a3a3a" stroke-width="3"/>
<text transform="translate(1162.5,420.2) scale(1.13,1)" font-size="25.5" font-weight="bold" text-anchor="end">-20</text>
<line x1="1180.3" y1="456.7" x2="1190.3" y2="456.7" stroke="#3a3a3a" stroke-width="3"/>
<text transform="translate(1162.5,465.9) scale(1.13,1)" font-size="25.5" font-weight="bold" text-anchor="end">-40</text>
<line x1="1180.3" y1="502.5" x2="1190.3" y2="502.5" stroke="#3a3a3a" stroke-width="3"/>
<text transform="translate(1162.5,511.7) scale(1.13,1)" font-size="25.5" font-weight="bold" text-anchor="end">-60</text>
<line x1="1230.6" y1="502.5" x2="1230.6" y2="511.5" stroke="#3a3a3a" stroke-width="3"/>
<line x1="1420.9" y1="502.5" x2="1420.9" y2="511.5" stroke="#3a3a3a" stroke-width="3"/>
<line x1="1611.2" y1="502.5" x2="1611.2" y2="511.5" stroke="#3a3a3a" stroke-width="3"/>
<line x1="1801.5" y1="502.5" x2="1801.5" y2="511.5" stroke="#3a3a3a" stroke-width="3"/>
<line x1="1991.8" y1="502.5" x2="1991.8" y2="511.5" stroke="#3a3a3a" stroke-width="3"/>
<rect x="1192.6" y="543.8" width="910" height="364.5" fill="none" stroke="#3a3a3a" stroke-width="3"/>
<line x1="1182.6" y1="543.8" x2="1192.6" y2="543.8" stroke="#3a3a3a" stroke-width="3"/>
<text transform="translate(1165.5,553.2) scale(1,1)" font-size="29" font-weight="bold" text-anchor="end">18</text>
<line x1="1182.6" y1="584.3" x2="1192.6" y2="584.3" stroke="#3a3a3a" stroke-width="3"/>
<text transform="translate(1165.5,593.7) scale(1,1)" font-size="29" font-weight="bold" text-anchor="end">16</text>
<line x1="1182.6" y1="624.8" x2="1192.6" y2="624.8" stroke="#3a3a3a" stroke-width="3"/>
<text transform="translate(1165.5,634.2) scale(1,1)" font-size="29" font-weight="bold" text-anchor="end">14</text>
<line x1="1182.6" y1="665.3" x2="1192.6" y2="665.3" stroke="#3a3a3a" stroke-width="3"/>
<text transform="translate(1165.5,674.7) scale(1,1)" font-size="29" font-weight="bold" text-anchor="end">12</text>
<line x1="1182.6" y1="705.8" x2="1192.6" y2="705.8" stroke="#3a3a3a" stroke-width="3"/>
<text transform="translate(1165.5,715.2) scale(1,1)" font-size="29" font-weight="bold" text-anchor="end">10</text>
<line x1="1182.6" y1="746.3" x2="1192.6" y2="746.3" stroke="#3a3a3a" stroke-width="3"/>
<text transform="translate(1165.5,755.7) scale(1,1)" font-size="29" font-weight="bold" text-anchor="end">8</text>
<line x1="1182.6" y1="786.8" x2="1192.6" y2="786.8" stroke="#3a3a3a" stroke-width="3"/>
<text transform="translate(1165.5,796.2) scale(1,1)" font-size="29" font-weight="bold" text-anchor="end">6</text>
<line x1="1182.6" y1="827.3" x2="1192.6" y2="827.3" stroke="#3a3a3a" stroke-width="3"/>
<text transform="translate(1165.5,836.7) scale(1,1)" font-size="29" font-weight="bold" text-anchor="end">4</text>
<line x1="1182.6" y1="867.8" x2="1192.6" y2="867.8" stroke="#3a3a3a" stroke-width="3"/>
<text transform="translate(1165.5,877.2) scale(1,1)" font-size="29" font-weight="bold" text-anchor="end">2</text>
<line x1="1182.6" y1="908.3" x2="1192.6" y2="908.3" stroke="#3a3a3a" stroke-width="3"/>
<text transform="translate(1165.5,917.7) scale(1,1)" font-size="29" font-weight="bold" text-anchor="end">0</text>
<line x1="1232.4" y1="908.3" x2="1232.4" y2="917.3" stroke="#3a3a3a" stroke-width="3"/>
<line x1="1422.9" y1="908.3" x2="1422.9" y2="917.3" stroke="#3a3a3a" stroke-width="3"/>
<line x1="1613.4" y1="908.3" x2="1613.4" y2="917.3" stroke="#3a3a3a" stroke-width="3"/>
<line x1="1803.9" y1="908.3" x2="1803.9" y2="917.3" stroke="#3a3a3a" stroke-width="3"/>
<line x1="1994.4" y1="908.3" x2="1994.4" y2="917.3" stroke="#3a3a3a" stroke-width="3"/>
<rect x="1192.6" y="966.6" width="910" height="361.9" fill="none" stroke="#3a3a3a" stroke-width="3"/>
<line x1="1182.6" y1="966.6" x2="1192.6" y2="966.6" stroke="#3a3a3a" stroke-width="3"/>
<text transform="translate(1164.5,975.7) scale(1.02,1)" font-size="28" font-weight="bold" text-anchor="end">11</text>
<line x1="1182.6" y1="1018.3" x2="1192.6" y2="1018.3" stroke="#3a3a3a" stroke-width="3"/>
<text transform="translate(1164.5,1027.4) scale(1.02,1)" font-size="28" font-weight="bold" text-anchor="end">10</text>
<line x1="1182.6" y1="1070" x2="1192.6" y2="1070" stroke="#3a3a3a" stroke-width="3"/>
<text transform="translate(1164.5,1079.1) scale(1.02,1)" font-size="28" font-weight="bold" text-anchor="end">9</text>
<line x1="1182.6" y1="1121.7" x2="1192.6" y2="1121.7" stroke="#3a3a3a" stroke-width="3"/>
<text transform="translate(1164.5,1130.8) scale(1.02,1)" font-size="28" font-weight="bold" text-anchor="end">8</text>
<line x1="1182.6" y1="1173.4" x2="1192.6" y2="1173.4" stroke="#3a3a3a" stroke-width="3"/>
<text transform="translate(1164.5,1182.5) scale(1.02,1)" font-size="28" font-weight="bold" text-anchor="end">7</text>
<line x1="1182.6" y1="1225.1" x2="1192.6" y2="1225.1" stroke="#3a3a3a" stroke-width="3"/>
<text transform="translate(1164.5,1234.2) scale(1.02,1)" font-size="28" font-weight="bold" text-anchor="end">6</text>
<line x1="1182.6" y1="1276.8" x2="1192.6" y2="1276.8" stroke="#3a3a3a" stroke-width="3"/>
<text transform="translate(1164.5,1285.9) scale(1.02,1)" font-size="28" font-weight="bold" text-anchor="end">5</text>
<line x1="1182.6" y1="1328.5" x2="1192.6" y2="1328.5" stroke="#3a3a3a" stroke-width="3"/>
<text transform="translate(1164.5,1337.6) scale(1.02,1)" font-size="28" font-weight="bold" text-anchor="end">4</text>
<line x1="1232.4" y1="1328.5" x2="1232.4" y2="1337.5" stroke="#3a3a3a" stroke-width="3"/>
<line x1="1422.9" y1="1328.5" x2="1422.9" y2="1337.5" stroke="#3a3a3a" stroke-width="3"/>
<line x1="1613.4" y1="1328.5" x2="1613.4" y2="1337.5" stroke="#3a3a3a" stroke-width="3"/>
<line x1="1803.9" y1="1328.5" x2="1803.9" y2="1337.5" stroke="#3a3a3a" stroke-width="3"/>
<line x1="1994.4" y1="1328.5" x2="1994.4" y2="1337.5" stroke="#3a3a3a" stroke-width="3"/>
<rect x="1192.6" y="1380.4" width="911.9" height="360.4" fill="none" stroke="#3a3a3a" stroke-width="3"/>
<line x1="1182.6" y1="1380.4" x2="1192.6" y2="1380.4" stroke="#3a3a3a" stroke-width="3"/>
<text transform="translate(1165.5,1389.5) scale(1.03,1)" font-size="28" font-weight="bold" text-anchor="end">400</text>
<line x1="1182.6" y1="1440.5" x2="1192.6" y2="1440.5" stroke="#3a3a3a" stroke-width="3"/>
<text transform="translate(1165.5,1449.5) scale(1.03,1)" font-size="28" font-weight="bold" text-anchor="end">350</text>
<line x1="1182.6" y1="1500.5" x2="1192.6" y2="1500.5" stroke="#3a3a3a" stroke-width="3"/>
<text transform="translate(1165.5,1509.6) scale(1.03,1)" font-size="28" font-weight="bold" text-anchor="end">300</text>
<line x1="1182.6" y1="1560.6" x2="1192.6" y2="1560.6" stroke="#3a3a3a" stroke-width="3"/>
<text transform="translate(1165.5,1569.7) scale(1.03,1)" font-size="28" font-weight="bold" text-anchor="end">250</text>
<line x1="1182.6" y1="1620.7" x2="1192.6" y2="1620.7" stroke="#3a3a3a" stroke-width="3"/>
<text transform="translate(1165.5,1629.7) scale(1.03,1)" font-size="28" font-weight="bold" text-anchor="end">200</text>
<line x1="1182.6" y1="1680.7" x2="1192.6" y2="1680.7" stroke="#3a3a3a" stroke-width="3"/>
<text transform="translate(1165.5,1689.8) scale(1.03,1)" font-size="28" font-weight="bold" text-anchor="end">150</text>
<line x1="1182.6" y1="1740.8" x2="1192.6" y2="1740.8" stroke="#3a3a3a" stroke-width="3"/>
<text transform="translate(1165.5,1749.9) scale(1.03,1)" font-size="28" font-weight="bold" text-anchor="end">100</text>
<line x1="1234.5" y1="1740.8" x2="1234.5" y2="1749.8" stroke="#3a3a3a" stroke-width="3"/>
<line x1="1425" y1="1740.8" x2="1425" y2="1749.8" stroke="#3a3a3a" stroke-width="3"/>
<line x1="1615.5" y1="1740.8" x2="1615.5" y2="1749.8" stroke="#3a3a3a" stroke-width="3"/>
<line x1="1806" y1="1740.8" x2="1806" y2="1749.8" stroke="#3a3a3a" stroke-width="3"/>
<line x1="1996.5" y1="1740.8" x2="1996.5" y2="1749.8" stroke="#3a3a3a" stroke-width="3"/>
<polyline points="1230.6,425.5 1230.9,426.2 1231.8,428 1233,430.5 1234.5,433.3 1236,435.9 1237.5,438.1 1238.8,439.7 1240.2,441.2 1241.7,442.7 1243.3,444 1244.9,445.2 1246.7,446.2 1248.7,447.1 1250.9,447.7 1253.2,448.2 1255.6,448.6 1258,449 1260.5,449.6 1263.4,450.6 1266.5,451.8 1269.6,453.1 1272.8,454.2 1275.9,455.1 1278.9,455.4 1281.7,455.2 1284.5,454.7 1287.3,453.9 1290.1,452.9 1292.6,451.8 1295,450.8 1296.7,449.9 1298.2,448.9 1299.7,447.9 1301.1,446.9 1302.6,445.9 1304.2,445 1306.4,444.2 1308.7,443.5 1311.1,442.9 1313.6,442.2 1315.9,441.4 1318,440.4 1319.8,439.2 1321.5,437.8 1323.1,436.3 1324.5,434.7 1325.9,433 1327.2,431.2 1328.4,429.2 1329.5,427.2 1330.5,425 1331.3,422.7 1332.1,420.2 1332.9,417.4 1334,412.6 1334.8,407.1 1335.6,401.2 1336.2,395 1336.9,388.8 1337.5,382.9 1338.1,377.2 1338.7,371.6 1339.3,366 1339.8,360.3 1340.4,354.4 1341,348.4 1341.7,341.1 1342.5,333.4 1343.2,325.6 1344,317.8 1344.8,310 1345.6,302.5 1346.3,295.8 1347.1,289.2 1347.8,282.7 1348.6,276.2 1349.4,269.8 1350.2,263.4 1351.1,257.2 1352,251 1352.9,244.8 1353.9,238.6 1354.9,232.6 1355.9,226.6 1356.8,221 1357.8,215.4 1358.7,209.8 1359.6,204.4 1360.6,199.2 1361.6,194.4 1362.3,191 1363,187.7 1363.7,184.6 1364.5,181.6 1365.3,178.8 1366.3,176 1367.3,173.5 1368.3,171 1369.4,168.5 1370.5,166.3 1371.8,164.5 1373.1,163.3 1374,162.9 1375,162.6 1376,162.5 1377,162.6 1378,162.9 1378.9,163.3 1380,164.3 1381.1,165.7 1382,167.4 1382.9,169.4 1383.7,171.5 1384.6,173.7 1385.9,177.2 1387.1,181.1 1388.3,185.3 1389.4,189.8 1390.5,194.4 1391.5,199 1392.6,204.4 1393.7,210.1 1394.7,215.9 1395.6,221.8 1396.5,227.7 1397.3,233.5 1398,239.2 1398.7,244.7 1399.2,250.3 1399.8,256 1400.2,261.9 1400.7,268 1401.2,276 1401.5,284.6 1401.7,293.5 1402,302.3 1402.4,310.7 1403,318.5 1403.6,323.9 1404.4,329 1405.2,333.8 1406,338.6 1406.8,343.4 1407.6,348.4 1408.4,354 1409.2,359.6 1410,365.2 1410.7,371 1411.5,376.9 1412.2,382.9 1413,390.2 1413.6,398 1414.3,406 1415,413.7 1415.8,420.7 1416.8,426.6 1417.4,429.4 1418.1,432 1418.7,434.4 1419.5,436.5 1420.4,438.5 1421.4,440.4 1422.4,441.9 1423.5,443.5 1424.7,445 1425.9,446.2 1427.1,447 1428.3,447.3 1429.5,447 1430.7,446.2 1431.8,445 1433,443.5 1434.1,442 1435.2,440.4 1436.5,438.2 1437.7,435.7 1438.8,432.9 1439.9,430 1441,427.1 1442.1,424.3 1443.3,421.3 1444.4,418.3 1445.5,415.2 1446.6,412.1 1447.8,409 1449,405.9 1450.4,402.4 1451.9,398.7 1453.4,395 1454.9,391.4 1456.5,388.1 1458.2,385.2 1459.5,383.2 1460.8,381.3 1462.1,379.5 1463.4,377.9 1464.8,376.7 1466.3,376 1467.6,375.8 1469,375.9 1470.3,376.3 1471.7,376.8 1473.1,377.5 1474.3,378.3 1475.6,379.5 1476.7,381 1477.7,382.7 1478.7,384.4 1479.9,386.1 1481.2,387.5 1482.8,388.8 1484.6,390.1 1486.5,391.3 1488.5,392.3 1490.6,393 1492.7,393.3 1495.3,392.9 1498.1,391.6 1501,390 1503.8,388.3 1506.5,387 1508.8,386.4 1510.1,386.4 1511.2,386.6 1512.3,386.9 1513.3,387.4 1514.5,388 1515.7,388.7 1518.5,391 1521.6,394.5 1525,398.4 1528.4,402.1 1531.5,404.9 1534.1,405.9 1535.5,405.6 1536.8,404.8 1538,403.6 1539,402.1 1540.1,400.6 1541,399 1542.1,396.9 1543,394.6 1543.7,392.1 1544.4,389.3 1545,386.3 1545.6,382.9 1546.7,375.3 1547.5,366 1548.2,355.7 1548.8,345.1 1549.4,334.7 1550.2,325.4 1550.9,318.4 1551.6,311.8 1552.3,305.3 1553.1,299 1553.9,292.7 1554.8,286.4 1555.8,280 1556.8,273.5 1557.9,267.1 1559.1,260.8 1560.3,255 1561.7,249.6 1562.7,246 1563.7,242.4 1564.8,239.1 1565.9,236.1 1567.2,233.4 1568.6,231.2 1569.7,230 1570.8,228.8 1572,227.8 1573.2,227 1574.4,226.6 1575.5,226.6 1576.8,227.3 1578,228.8 1579.1,230.7 1580.2,233.1 1581.3,235.6 1582.4,238.1 1584.1,242.2 1585.7,247 1587.2,252.2 1588.7,257.6 1590.2,262.9 1591.6,268 1592.9,272.6 1594.1,277.1 1595.2,281.5 1596.3,286 1597.4,290.7 1598.5,295.6 1599.8,301.9 1601,308.5 1602.1,315.3 1603.2,322.3 1604.3,329.5 1605.4,336.9 1606.6,346.2 1607.8,356.1 1609,366.4 1610.1,376.4 1611.2,385.9 1612.3,394.4 1613,399.7 1613.6,404.8 1614.1,409.7 1614.8,414.2 1615.7,418.3 1616.9,422 1618,424.6 1619.3,427.2 1620.6,429.6 1622.1,431.6 1623.5,433 1624.9,433.5 1626.3,433 1627.6,431.6 1629,429.5 1630.4,427.1 1631.7,424.5 1633,422 1634.7,418.6 1636.3,414.7 1637.9,410.6 1639.4,406.4 1640.9,402.5 1642.2,399 1643,396.8 1643.7,394.9 1644.4,393 1645.1,391.2 1645.9,389.3 1646.9,387.5 1648.3,385.1 1649.9,382.4 1651.7,379.8 1653.6,377.4 1655.4,375.7 1657.2,374.9 1658.6,375 1660,375.6 1661.3,376.5 1662.7,377.7 1664,379.1 1665.3,380.6 1667,383.2 1668.6,386.4 1670.1,390 1671.6,393.9 1673,397.7 1674.5,401.3 1676,405.2 1677.5,409.6 1679,414 1680.5,417.9 1682.1,420.7 1683.7,422 1684.8,421.9 1686,421.1 1687.2,419.9 1688.3,418.4 1689.5,416.8 1690.6,415.1 1692.2,412 1693.7,408 1695.1,403.7 1696.5,399.3 1698,395.3 1699.8,392.1 1701.2,390.2 1702.8,388.3 1704.4,386.6 1706,385.2 1707.5,384.4 1709,384.1 1710.3,384.5 1711.5,385.5 1712.6,386.9 1713.8,388.6 1714.8,390.4 1715.9,392.1 1717.2,394.3 1718.4,396.8 1719.5,399.4 1720.6,402.2 1721.7,405.1 1722.8,408.2 1724.3,413.1 1725.8,419.1 1727.3,425.3 1728.8,430.9 1730.4,435.1 1732,437 1732.8,437.1 1733.6,436.8 1734.4,436.3 1735.2,435.5 1735.9,434.6 1736.6,433.5 1737.8,429.5 1738.4,423.8 1738.6,416.9 1738.6,409.3 1738.6,401.6 1738.9,394.4 1739.4,386.9 1740,379.3 1740.5,371.6 1741.1,363.9 1741.7,356.1 1742.3,348.4 1742.9,340.7 1743.4,333.1 1744,325.4 1744.5,317.8 1745.2,310.1 1745.8,302.5 1746.5,294.8 1747.2,286.9 1748,279.1 1748.8,271.3 1749.6,263.8 1750.4,256.5 1751.1,250.4 1751.7,244.4 1752.4,238.5 1753.1,232.8 1754,227.3 1755,222 1755.9,217.8 1756.9,213.6 1758,209.5 1759.2,205.7 1760.5,202.2 1761.9,199 1763.1,196.7 1764.4,194.3 1765.8,192.1 1767.2,190.3 1768.6,189 1769.9,188.6 1771.3,189.2 1772.8,190.8 1774.3,193 1775.7,195.7 1776.9,198.6 1778,201.3 1779,204.8 1779.7,208.7 1780.2,212.7 1780.6,217.1 1780.9,221.7 1781.4,226.6 1782.2,234.3 1782.9,242.8 1783.6,251.8 1784.3,261.2 1785.1,270.5 1786,279.5 1787,288.4 1788.2,297.2 1789.4,306.1 1790.6,315 1791.8,323.7 1792.9,332.3 1793.9,340.2 1794.9,348 1795.9,355.7 1796.9,363.4 1797.8,370.9 1798.7,378.3 1799.5,385 1800.2,391.7 1800.9,398.3 1801.6,404.8 1802.4,411.2 1803.3,417.4 1804.2,423.2 1805.1,429.1 1806.1,434.8 1807.2,440.3 1808.5,445.3 1810.2,449.6 1811.5,452.1 1812.8,454.5 1814.3,456.6 1815.8,458.4 1817.5,460 1819.4,461.1 1821.5,461.9 1823.8,462.3 1826.3,462.5 1828.7,462.4 1831.1,461.9 1833.1,461.1 1835,459.6 1836.6,457.6 1838,455.2 1839.4,452.5 1840.8,449.8 1842.3,447.3 1844.1,444.5 1845.8,441.4 1847.6,438.3 1849.5,435.4 1851.6,433 1853.8,431.2 1855.9,430.3 1858.1,429.9 1860.5,429.8 1862.9,429.9 1865.3,430 1867.6,430.1 1869.9,430.3 1872.4,430.8 1874.8,431.4 1877.1,431.8 1879.3,431.8 1881.4,431.2 1883.6,429.3 1885.6,426.5 1887.3,423 1889,419.3 1890.8,415.8 1892.9,412.8 1895.1,410.3 1897.4,407.8 1899.9,405.4 1902.3,403.3 1904.6,401.9 1906.7,401.3 1908,401.4 1909.1,401.9 1910.2,402.6 1911.3,403.5 1912.4,404.7 1913.6,405.9 1915.9,409.3 1918.3,414.3 1920.8,419.8 1923.2,424.9 1925.4,428.6 1927.4,430.1 1928.5,429.7 1929.6,428.5 1930.6,426.7 1931.6,424.5 1932.4,422.1 1933.2,419.7 1934.3,415 1935,409.5 1935.5,403.3 1935.8,396.6 1936.2,389.8 1936.6,382.9 1937.2,373.9 1937.8,364.1 1938.3,354 1938.9,343.9 1939.5,334.3 1940.1,325.4 1940.6,319.1 1941.1,313.2 1941.6,307.5 1942.1,301.9 1942.8,296.5 1943.5,291 1944.3,285.8 1945.2,280.7 1946.1,275.6 1947.1,270.7 1948.2,265.8 1949.3,261.1 1950.3,257 1951.3,252.8 1952.4,248.7 1953.5,244.9 1954.8,241.3 1956.2,238.1 1957.4,235.8 1958.6,233.5 1960,231.3 1961.4,229.5 1962.8,228.2 1964.2,227.7 1965.7,228.1 1967.3,229.3 1968.9,231.1 1970.5,233.2 1972,235.7 1973.4,238.1 1975.3,242.3 1977,247.2 1978.6,252.6 1980,258.4 1981.3,264.4 1982.6,270.3 1984,277.1 1985.3,284.1 1986.4,291.3 1987.5,298.7 1988.5,306.3 1989.5,314 1990.6,323 1991.6,332.3 1992.5,341.9 1993.4,351.6 1994.3,361.4 1995.2,371.4 1996.1,382.8 1997,394.7 1997.9,406.9 1998.8,418.8 1999.8,430.1 2001,440.4 2001.8,447.7 2002.6,455.1 2003.4,462.2 2004.4,468.5 2005.8,473.7 2007.9,477.2 2009.2,478.3 2010.8,479.2 2012.4,479.7 2014,479.9 2015.6,479.9 2017.1,479.5 2018.8,478.3 2020.3,476.3 2021.8,473.8 2023.2,471 2024.7,468.2 2026.3,465.7 2028.1,463.4 2029.9,461 2031.8,458.7 2033.7,456.4 2035.7,454.1 2037.8,451.9 2040,449.6 2042.3,447.2 2044.6,444.8 2047,442.6 2049.3,440.7 2051.6,439.3 2053.4,438.5 2055.4,438 2057.4,437.5 2059.1,437.2 2060.3,437.1 2060.8,437" fill="none" stroke="#ff0000" stroke-width="3.5" stroke-linejoin="round" stroke-linecap="round"/>
<polyline points="1232.4,701.3 1232.3,692 1232.5,679.9 1234,668.1 1236.2,663.8 1237.6,659.5 1239,658.4 1240.5,656.3 1242.1,654.2 1243.6,653.2 1245,652.2 1246.6,651.4 1248.2,649.7 1249.8,650.5 1251.3,649.1 1252.5,646.5 1253.7,650.9 1256.1,650.2 1258.2,651.2 1260.2,655.1 1261.8,658.7 1263.9,661.2 1265.2,660.6 1266.4,662 1267.9,660.2 1269.3,663.2 1270.6,660.1 1272,660.9 1273.2,660.6 1274.4,660.2 1276.7,658.1 1278.9,657 1280.1,651.5 1281.3,653.6 1283.6,650.6 1285.8,649 1287.3,652.2 1288.7,652.1 1290.4,655.1 1291.8,654 1293.2,657.2 1294.8,656 1296.4,656.7 1298,660.8 1299.6,659.4 1301.2,658.1 1302.8,657.7 1304.4,655 1305.9,654.3 1307.4,654.6 1308.8,650.7 1310.1,651.4 1311.4,647.6 1313.6,645.6 1315.7,642.5 1317.2,647.3 1318.6,650.2 1320.3,651.2 1322.4,650.1 1323.7,651 1324.9,651.5 1327.2,650.8 1328.5,653.1 1329.8,654.8 1332.2,656.9 1334.1,660.5 1335.6,672.7 1335.7,685.4 1336.4,698.6 1337.6,703.3 1339,710.4 1341,713.6 1342.8,716.6 1344.6,721.5 1346,723.3 1347.5,725.5 1348.9,728.8 1350.1,730.8 1351.3,728.9 1352.5,732.1 1354.4,729.3 1355.7,723.8 1357.1,719.2 1358.6,712.6 1360.2,710.2 1361.7,704.4 1363.3,697 1364.9,688.2 1366.2,684.7 1367.4,681.1 1368.7,680.7 1369.9,681 1371.3,678.9 1372.8,677.6 1374.1,676.3 1375.4,674.3 1377.1,673.4 1378.7,673 1380,668.9 1381.2,673.9 1381.7,680.2 1382.3,686.6 1383.9,703.3 1385.6,723.8 1387,743.7 1387.7,757.3 1388.1,771.6 1389.2,783.2 1390.7,793.5 1392.6,802.1 1395,810.7 1396.2,813.3 1397.4,817.8 1398.8,821.6 1400.2,823.1 1401.6,826.3 1403,829.5 1405.3,833.8 1407.7,839.4 1409.9,840.6 1411.2,837.2 1412.5,835.3 1414.9,828.2 1416.8,818 1418.7,801.5 1419.6,780.6 1420.3,760.1 1421.1,735 1421.8,714 1422.6,690 1423,678.2 1423.5,663.5 1424.9,653.5 1426.6,648.2 1428.6,642.2 1430.6,639.7 1432.1,642.8 1433.7,646.2 1435.2,650 1437.4,656.3 1439.5,663.8 1440.8,667 1442.1,669.7 1443.6,671.2 1445.2,672.4 1446.7,672.4 1448.5,677.9 1449.7,686.2 1451.3,692.3 1453.3,688.5 1455.6,682.8 1456.9,680.2 1458.2,677.8 1459.6,675.6 1461.1,674.9 1462.7,673 1464.3,667.8 1465.8,669.2 1467.4,671 1468.6,665.6 1469.8,666 1472.2,665.1 1474.3,663.4 1476,666.3 1477.4,666.4 1478.9,669 1480.4,672.1 1481.9,673.4 1483.5,673.8 1485.5,674.4 1487.6,671.5 1489.3,668 1490.5,659.8 1491,651.1 1492.7,644.9 1494.8,643.7 1496.1,645.2 1497.4,645.3 1499.6,646.2 1501.3,649.1 1502.6,650.4 1504.2,654.1 1506.3,655.2 1507.5,657.7 1508.8,657.5 1511.1,660.9 1512.7,662.7 1514.3,663.2 1515.8,665.4 1517.3,670 1518.8,671.9 1520.3,674.7 1522.7,677.8 1525,683.1 1527.2,684.3 1528.9,683.4 1530.4,680.6 1531.8,676.3 1533.5,669.5 1534.9,665 1536.4,658.2 1538.3,651.1 1540.4,645.6 1542.2,641.4 1543.7,647.6 1544.8,656.7 1545.6,668.7 1545.9,688.1 1545.7,710.4 1546.8,724.1 1547.8,729.3 1549,730.2 1550.2,731.3 1551.8,738.2 1553.3,743.7 1554.8,747.4 1556.3,742.8 1557.7,733.9 1559.4,723.8 1561.6,721.6 1562.8,718.9 1564.1,715.6 1566.3,709.9 1568.1,703.9 1569.5,694.8 1570.9,689.4 1572.2,681.4 1573.5,673.2 1575.5,670.7 1577,670.6 1578.6,672.8 1580.1,673.5 1581.3,675.9 1582.6,680.5 1583.6,698.1 1584.7,713.8 1586.2,729.7 1587.6,746.1 1589.3,759.7 1590,761.4 1590.8,763.8 1591.6,767.7 1593,771.7 1594.6,776.1 1596.2,781.8 1598.4,793.7 1600.6,808 1601.8,811.3 1603.1,819.1 1605.4,824.6 1606.6,828.8 1607.8,833.4 1610,835 1611.8,832.6 1613.3,824 1614.6,818.1 1615.7,808.1 1616.3,794.5 1616.9,783.1 1617.7,767.6 1618.4,750.3 1619.2,739.6 1620,722.2 1620.7,707 1621.5,691.4 1621.9,675.3 1622.3,661.7 1623.8,645.5 1625.2,642.6 1626.8,639 1628.4,637.9 1630.6,643.8 1632.8,652.4 1634.1,655.8 1635.3,660 1636.9,663.4 1638.5,665.1 1640,666.5 1641.5,671.1 1642.8,673.5 1644.6,678.2 1646.4,678.9 1648.4,678.5 1650.3,677.5 1652.5,676 1654.4,669.7 1656.1,667.7 1657.8,669.2 1659.4,676.5 1660.7,679.4 1661.5,683.5 1662.1,688.4 1663,693.1 1664.7,698 1666.7,700.8 1668.7,705.8 1670.3,712.3 1671.8,717.5 1673.3,717.5 1675,716.2 1676.6,710 1677.9,702.5 1678.7,697.6 1679.2,689.4 1680.2,685 1681.6,680.6 1683.4,677.9 1684.8,673.4 1685.5,671 1685.9,664.6 1687.1,663.6 1688.9,663.3 1691,659.8 1692.9,662 1694.3,667 1694.8,672.7 1696.3,678.3 1697.9,676.4 1699.5,674.9 1700.8,671.9 1702.1,671.5 1703.4,669.7 1705,672.5 1706.7,669.4 1708.5,670.5 1709.9,672.5 1711.3,678.9 1713.7,680.2 1714.9,685.1 1716.1,687 1718.2,691.1 1719.8,697.5 1720.8,706 1721.6,712.7 1722.4,722.5 1723,731.4 1723.9,737.8 1724.8,743.8 1725.8,747.6 1726.9,751 1728.2,747.3 1729.6,742.4 1730.8,737.6 1731.8,732.5 1732.5,722.5 1733.1,714 1733.7,698.3 1734,684.9 1734.3,667.1 1734.9,637.9 1735.5,607.2 1736.1,594.5 1736.5,600.6 1736.8,614 1737.2,619.8 1737.6,607.7 1738,586.3 1738.4,573.3 1738.7,590.8 1739.1,624 1739.5,640.2 1740,628.4 1740.7,608.8 1741.2,597.4 1741.6,613 1741.8,641.2 1742.3,668.5 1743,681 1743.8,690.3 1744.6,702.7 1745.2,719.7 1745.7,735.1 1746.9,749.3 1747.9,754 1749.2,758.1 1750.4,760.9 1751.8,755.5 1753.3,750.1 1755,741 1757.2,736.9 1758.5,731.4 1759.7,729.8 1761.9,723.4 1763.8,711 1765,698.2 1766.5,685.6 1767.8,679.2 1769.3,673.5 1770.6,672 1771.6,674.1 1772.5,680.5 1773.4,686 1775,697.3 1776.6,711.1 1778,723.5 1778.9,737.1 1779.7,749.7 1780.3,758.6 1780.6,766.2 1780.9,773.1 1781.4,777.6 1782.3,784.7 1783.5,790.2 1784.9,799.2 1786.1,804.1 1787.4,809.8 1789.5,812.1 1791.7,814.4 1792.9,813.7 1794.2,814.4 1796.4,814.5 1797.7,819.4 1799,822.6 1800.5,835 1802.1,842.2 1804.1,835.9 1806.2,828.7 1807.9,822.5 1809.2,811 1809.7,796.4 1810.2,783.5 1810.9,768.3 1811.4,752.9 1812,738.3 1812.5,720.6 1813,706.4 1813.6,691.2 1813.8,678 1814.1,667.6 1815.9,657.5 1817.6,655.3 1819.6,656.7 1821.7,653.1 1823.9,653.4 1826,650.1 1827.3,647.7 1828.5,646.4 1830,644.8 1831.6,646.7 1833.2,645.2 1834.9,648.7 1836.3,646 1837.7,648.5 1839.8,649.6 1840.9,657.8 1842.3,664.7 1844.1,666.9 1846.1,670.1 1848.1,672.1 1849.9,671.7 1851.7,669.4 1853.8,665.5 1855.3,662.2 1856.7,663.1 1858.3,662.4 1859.9,662.4 1861.5,659.6 1863,659 1865.4,659.7 1867.6,663.8 1869.9,666.3 1872.2,662.5 1874.6,661.4 1876.8,657.7 1878.1,655.9 1879.3,654.2 1881.7,650 1883.7,646.4 1885.2,650.3 1886.4,658.4 1888.3,662.7 1890.4,664.4 1891.7,664.6 1892.9,664.4 1895.2,666.1 1896.8,668 1898.3,669.5 1899.8,671.3 1901.2,668.7 1902.5,668.1 1904,664.4 1905.5,662.4 1906.7,659.5 1907.9,658.2 1909.3,659.2 1910.3,665.2 1911.3,668.5 1912.8,675 1914.2,683.4 1915.9,690.1 1917.2,696.6 1918.6,701.6 1920.1,705.8 1921.6,713.1 1922.8,715.1 1924,720 1925.4,706.9 1925.8,687.2 1926.3,678.2 1926.9,683.1 1927.4,692.7 1928,700.2 1928.6,692 1929.2,681 1929.7,670.9 1930.2,679.1 1930.6,691.8 1931,701.8 1931.2,696.6 1931.4,678.1 1932,662.4 1932.9,655.7 1933.9,647.8 1934.8,645 1935.4,660.3 1935.6,685.3 1936.6,704.1 1937.3,706.8 1938.1,706 1938.9,707.4 1940.1,721.6 1941.1,736.2 1942.4,748.4 1943.5,754 1944.7,759.8 1945.8,761.7 1947.2,755.3 1948.6,742.6 1950.4,729.8 1952.5,722.6 1953.7,721.2 1954.9,716.2 1957.3,711.4 1958.7,703.4 1960.1,696.1 1961.4,690 1962.7,681.2 1964.1,678.1 1965.4,674.5 1967.4,677.5 1969.4,684.5 1971.1,693.1 1973.1,705.2 1974.3,720 1975.7,736.1 1977.2,747.7 1978.7,762.5 1980.3,774.6 1981.8,785 1983.4,795.7 1985,806.4 1986.3,816.6 1987.6,827.1 1989.5,836 1990.7,839 1992,845.1 1993.4,849.4 1994.9,850.3 1996.2,853.4 1997.6,854.2 1999.7,853.4 2001.6,846.7 2003.3,841.9 2005,831.5 2006,818.1 2006.8,805.4 2007.4,787.2 2007.6,768.7 2007.9,747.4 2008.4,729.3 2008.9,707.9 2009.7,692.1 2010.4,677.2 2011.2,662.1 2012.5,651.1 2013.7,645.4 2015.2,639.7 2016.6,634 2017.8,640.7 2018.9,649.4 2020.5,653.7 2022.3,655.5 2024.3,660.3 2026.3,661.3 2027.8,663 2029.2,665.1 2030.9,664.4 2033.2,666.1 2034.4,665.9 2035.7,666.2 2037.8,666.5 2039.2,656.5 2040.5,650.1 2040.1,619.5 2039.6,604.4 2040,611.3 2040.3,630.3 2040.7,639.8 2041.1,628.6 2041.5,607.5 2041.9,594.7 2042.3,608.7 2042.6,636.8 2043,652.3 2043.4,644.9 2043.8,629 2044.2,621.2 2043.8,633.1 2043.4,654 2045.2,667.5 2047.1,665 2049.3,662.4 2051.6,662.2 2054,658 2056.3,655.5 2058.5,655.8 2060.5,656.3 2062.3,657.6 2063.1,659.9" fill="none" stroke="#00ff00" stroke-width="3.2" stroke-linejoin="round" stroke-linecap="round"/>
<polyline points="1232.9,1245.6 1233.2,1248.1 1234,1248.2 1235.2,1252.3 1236.9,1251.4 1239,1251.5 1240.9,1254.5 1242.6,1256.5 1243.7,1261.6 1245.5,1265.8 1246.7,1266 1248,1264.4 1249.4,1264.1 1250.8,1261.4 1252.2,1261.7 1253.6,1261.1 1255.9,1261.7 1258,1264 1259.3,1264.7 1260.5,1267 1262.3,1266.8 1264.1,1266.3 1265.4,1266.1 1266.7,1263.9 1268.1,1264.6 1269.4,1264.7 1270.7,1265 1272,1263 1273.3,1264 1274.6,1262.8 1275.9,1265 1277.1,1264.1 1278.4,1265.9 1279.6,1269.7 1280.9,1266.8 1282.2,1270.9 1283.5,1271.2 1284.8,1270.8 1286.1,1271.9 1287.3,1272.3 1288.7,1273.1 1290,1271.9 1291.3,1271.6 1292.5,1271.9 1293.8,1271.7 1295,1273.1 1296.5,1273 1298.1,1275.9 1299.6,1273.6 1301,1275.4 1302.6,1276.1 1304.2,1275.4 1305.7,1279.5 1307.2,1274.5 1308.8,1276.5 1310,1275.7 1311.2,1277.6 1312.5,1273.1 1313.7,1276 1315.1,1273.8 1316.6,1274.2 1318,1273.5 1319.3,1275.6 1320.6,1274.3 1322.8,1277.7 1324.9,1280.4 1327,1284.4 1329,1282.2 1330.6,1287.4 1332.1,1280.6 1332.4,1266.8 1332.9,1256.1 1334,1248.1 1335.4,1243.7 1336.4,1235.3 1336.8,1227.8 1337,1220.7 1337.5,1214.2 1338.4,1209.2 1339.6,1203.7 1341,1202.9 1342.3,1195.4 1343.8,1190.8 1345.1,1193.6 1346.5,1198.7 1347.4,1209.2 1349,1216.5 1350.5,1218.3 1352.1,1220 1353.6,1222.4 1354.9,1227.7 1355.5,1236.5 1357.1,1244.1 1358.9,1242.2 1361,1239.1 1362.8,1242.3 1364.7,1244.5 1366,1249.6 1367.4,1254.5 1368.4,1258 1369.6,1258.3 1370.9,1259.2 1372.7,1260.3 1374.8,1262.1 1376.6,1263.9 1378.5,1259.1 1379.8,1252.5 1381.2,1249.6 1382.8,1245.9 1384.4,1244 1385.8,1241 1387.1,1232 1387.6,1223.1 1388.1,1214.3 1388.5,1205.3 1388.9,1199.6 1389.2,1192.9 1389.6,1185.3 1390,1178.9 1390.4,1172.7 1390.6,1165.1 1390.7,1157.9 1391.5,1151.9 1392.9,1147.6 1394.7,1144.7 1396.1,1139.2 1397.2,1129.9 1397.3,1115.3 1397.3,1098.2 1397.7,1067.7 1398,1038.5 1398.4,1024.8 1398.7,1032.2 1399.1,1050 1399.5,1059.4 1399.9,1048.3 1400.3,1023.5 1400.7,1013.2 1401.1,1021.6 1401.4,1041.2 1401.8,1050 1402.2,1041.1 1402.6,1023.7 1403,1015.9 1403.3,1023.9 1403.6,1040.6 1404.2,1053.8 1404.6,1058.5 1405.1,1064.8 1406.5,1068.4 1408.3,1067 1410.4,1065.7 1412.2,1065.7 1413.8,1071.3 1414.2,1078.4 1414.5,1084.7 1415.3,1095.2 1416.1,1104 1416.8,1114.8 1417.7,1136.8 1418.5,1158.8 1419.1,1179.1 1419.3,1199.8 1419.5,1219.6 1420.3,1234.4 1421.2,1242 1422.3,1248.7 1423.7,1251.5 1425.1,1258.7 1426.7,1263.7 1428.3,1267.9 1429.7,1270.1 1431,1276.1 1432.9,1277.9 1434.7,1280.9 1436.7,1281.8 1438.7,1281.3 1440.1,1278.3 1441.4,1276.5 1442.7,1274.7 1443.9,1269.3 1445.3,1268.2 1446.7,1265.6 1449,1262.8 1450.2,1265.1 1451.4,1261.9 1453.6,1264 1455.2,1261 1456.6,1263.3 1458.2,1268.4 1459.6,1267.3 1460.9,1265.6 1462.5,1264.3 1464.1,1260.7 1465.8,1260.9 1467.4,1259.3 1469,1259.9 1470.5,1260.9 1472.1,1260 1473.7,1260.4 1475.2,1258.9 1476.6,1258.8 1477.9,1257.7 1479.2,1255.5 1481.4,1252.7 1483.5,1247.9 1485.1,1251.6 1486.7,1250.2 1488.1,1254.7 1489.5,1256.9 1490.7,1264.8 1492.7,1267.5 1494.4,1269.2 1496,1271 1497.4,1270.2 1498.8,1270.5 1500.1,1270.1 1501.5,1273.9 1502.8,1272.1 1504.2,1272.4 1505.5,1272.5 1506.9,1274.2 1508.2,1269.6 1509.6,1270.8 1510.9,1269.1 1512.2,1269.1 1514,1265.4 1515.7,1265.8 1517.4,1266.7 1518.9,1267.4 1520.3,1266.8 1521.9,1260.1 1523,1255.7 1524.9,1252.3 1526.3,1251 1527.8,1251 1529.5,1254.3 1531.2,1254.7 1532.7,1255.6 1534.1,1258.3 1536.1,1260.3 1537.3,1267.6 1538.7,1271.9 1540.2,1274.9 1541.9,1278.3 1543.3,1279 1544.4,1277.1 1545.1,1272.8 1545.6,1269.4 1546.1,1255 1546,1241.7 1546.1,1226.6 1546.6,1209.5 1547.3,1194.9 1547.9,1185.9 1548.3,1195.4 1548.6,1206.8 1549,1214.5 1549.5,1206.3 1550.1,1189.9 1550.7,1180.9 1551.2,1188.7 1551.6,1202 1552,1208.9 1552.3,1205.8 1552.7,1196.6 1553,1190.4 1552.9,1198.6 1552.8,1210.4 1553.7,1220.2 1555.4,1226 1557.6,1227.6 1559.4,1231.8 1560.3,1237.8 1560.7,1240.4 1561.7,1246.6 1563.6,1249.1 1564.8,1253.3 1566,1253.6 1567.3,1256.5 1568.6,1256.4 1570,1259.9 1571.4,1263.5 1572.8,1265.2 1574.2,1264.8 1576.6,1269.5 1578.2,1266.2 1579.2,1258.1 1580.1,1252.8 1581.7,1240.6 1583.3,1231.3 1584.7,1222.5 1585.6,1213.8 1586.2,1205 1587,1194.8 1587.5,1189.3 1588.1,1187.5 1589.3,1182.9 1590.7,1184.2 1592.5,1183.3 1593.9,1185.7 1595.2,1182.2 1595.7,1176.8 1596.2,1170.7 1597,1164.1 1597.7,1156.5 1598.5,1150.4 1599.3,1144.8 1600,1139.8 1600.8,1133.5 1601.4,1130 1602,1122 1603.1,1117.1 1605.2,1110.4 1606.4,1104.7 1607.7,1100.5 1610,1100.9 1611.3,1100.5 1612.4,1104.4 1613.4,1108.4 1614.7,1124.6 1615.1,1144.5 1615.7,1166 1616.8,1180.1 1618,1194.4 1619.2,1204.9 1620,1218.9 1620.6,1228.3 1621.5,1235.5 1622.5,1244.7 1623.6,1253.4 1624.9,1261.1 1625.7,1265.3 1626.6,1271.3 1628.4,1273.1 1629.7,1272.9 1631.1,1274.1 1632.7,1276.1 1634.4,1275.1 1636,1276.5 1637.6,1276.5 1638.9,1274.6 1640.3,1273.6 1641.6,1270.8 1642.9,1268.7 1644.1,1265.7 1645.4,1263.3 1646.7,1260.7 1647.9,1260.3 1649.2,1258.1 1651.5,1257.5 1653.9,1259.7 1656.1,1259.8 1657.8,1257.2 1659.5,1257.3 1661.1,1254 1662.7,1251.3 1664,1246.6 1665.3,1242.7 1666.7,1238.8 1667.4,1232.2 1668.7,1226.7 1670.8,1220.9 1672.1,1219.4 1673.3,1215.1 1675.6,1214 1677.3,1214.5 1678.9,1217.9 1680.2,1225.4 1681.5,1235.5 1682.5,1241 1683.7,1252.3 1684.8,1257.2 1686,1263.9 1688.3,1268.5 1689.7,1269 1691.1,1267.9 1692.8,1268.8 1694.5,1268.8 1696,1269.3 1697.5,1267.7 1699.7,1272.9 1701.4,1276.9 1703.2,1279.2 1704.6,1273.6 1705.9,1273.7 1707.3,1268.3 1708.7,1267.6 1710,1264.4 1711.3,1259.1 1712.8,1255 1714.2,1253.3 1715.6,1249.9 1716.9,1244.4 1719.3,1237.1 1721,1226.8 1722.4,1221 1723.9,1214.6 1725.3,1207.9 1726.8,1203.1 1728.5,1197 1729.7,1196.4 1730.9,1201 1732,1202.2 1733.6,1215.5 1733.9,1233.6 1734.3,1249.6 1735.1,1260.9 1735.9,1270.4 1736.6,1271.3 1737.4,1263.8 1737.9,1244.9 1738.4,1218.6 1738.8,1172.5 1739,1117.9 1739.3,1092.1 1739.7,1106.6 1740.1,1128.9 1740.5,1139.7 1741.1,1123.3 1741.7,1088.1 1742.3,1071.1 1742.6,1086.2 1742.8,1111.4 1743.5,1128.8 1743.9,1132.5 1744.2,1133.8 1744.6,1135.4 1745.3,1123.1 1745.6,1099.6 1745.8,1087.5 1746,1103.8 1746.1,1138 1746.9,1172.3 1748.3,1192.7 1750.1,1211.4 1751.4,1218.3 1752.7,1225.6 1754.8,1234.8 1757.2,1240.2 1758.4,1243.8 1759.6,1244.8 1761.4,1250.4 1763.2,1256.4 1765.3,1257 1767.6,1259.2 1768.8,1261.9 1770.1,1265.1 1772.2,1265.5 1774,1259.7 1774.9,1252.1 1775.7,1244.2 1777,1230.4 1778,1216.9 1779.1,1202.6 1780.3,1190.7 1781.6,1181.6 1782.6,1170.4 1783.3,1148.7 1783.5,1124.2 1783.7,1100.5 1784.1,1058.4 1784.5,1010.1 1784.9,988.6 1785.3,1008 1785.6,1041.4 1786,1059.1 1786.4,1042.2 1786.8,1003.7 1787.2,984.8 1787.6,1009.3 1787.9,1054.6 1788.3,1079.7 1788.7,1066.6 1789.1,1041.5 1789.5,1026.6 1789.8,1035.1 1790.1,1053.6 1790.6,1074.1 1791.2,1086.5 1791.9,1100.1 1792.9,1112.1 1793.8,1117.4 1794.9,1122.3 1795.9,1124 1796.8,1117 1797.5,1101.2 1798.7,1087 1799.7,1083.2 1800.9,1081.2 1802.1,1077 1803.2,1079.9 1804.2,1082.6 1805.1,1089.7 1805.9,1095.2 1806.3,1102.9 1806.7,1111.4 1807.4,1125.7 1808.2,1141.8 1809,1155.2 1809.7,1169.1 1810.4,1180.7 1811.3,1189.8 1812.3,1203.9 1813.5,1215.3 1814.8,1224.2 1816,1236 1817.4,1246.5 1819.4,1255.2 1821.4,1261.6 1823.7,1264.5 1825,1267.5 1826.3,1269.8 1828.5,1272.1 1830.9,1272.6 1833.1,1273.9 1835.2,1278.8 1837,1280.3 1838.9,1285.6 1840.1,1282.6 1841.3,1279.8 1842.6,1277.5 1843.9,1272.7 1845.4,1270.5 1846.9,1270.4 1848.4,1270.6 1850,1273 1851.7,1272.7 1853.3,1273.8 1854.7,1274.8 1856.1,1278.4 1857.9,1273 1858.9,1266.5 1860.3,1262.8 1861.8,1264 1863.5,1267.8 1865.3,1270.1 1867.5,1269.4 1869.9,1266.6 1872.2,1264.2 1874.5,1265.2 1876.7,1268.9 1879.1,1270.6 1881.4,1273.8 1882.6,1276 1883.8,1275.9 1886,1276.9 1888,1273.1 1889.8,1272.3 1891.8,1268.8 1894,1266.8 1896.3,1265.9 1898.7,1262.5 1900.1,1265.2 1901.4,1265.6 1902.8,1269.9 1904.2,1269.1 1905.4,1269.5 1906.7,1271.7 1908.4,1269.5 1909.9,1271.4 1911.3,1267.7 1913.3,1263.4 1914.7,1255.1 1915.9,1249.8 1917,1240.1 1917.9,1236.8 1919.4,1229.6 1921.2,1226.4 1923.3,1221.5 1925.1,1221.6 1926.5,1225.9 1927.2,1235 1928.6,1242.3 1930.4,1246.9 1932.5,1250.9 1934.3,1250.8 1936,1233.1 1935.7,1200 1936.6,1176 1938,1168.4 1939.7,1164.8 1941.2,1161.5 1942.5,1162.8 1943.7,1170.3 1944.7,1177.4 1945.6,1183.7 1946.2,1192.5 1947,1202 1948,1211.7 1949.2,1217.6 1950.4,1225.5 1951.6,1235.6 1953,1243.9 1955,1251.3 1956.8,1253.7 1958.8,1256.1 1960.8,1259.5 1962.8,1263.2 1964.8,1267.6 1966.5,1268 1968.1,1262.9 1968.8,1251 1970,1239.8 1971.5,1235.6 1973.1,1231.9 1974.6,1226.1 1976,1215.8 1977,1202.7 1978,1191.8 1979.5,1177.4 1981.2,1162.8 1982.6,1149.1 1983.4,1142 1984.1,1136.2 1984.9,1125.3 1986.2,1111.3 1987.7,1097 1989.5,1082.7 1990.8,1075.8 1992.3,1068 1994.1,1062 1996,1058.3 1998.1,1054.2 1999.9,1052.2 2001.5,1055.7 2002.5,1066.4 2003.3,1075.3 2004.3,1092.8 2005,1109.1 2005.6,1127.1 2006.1,1145.4 2006.4,1162.8 2006.8,1178.5 2007.3,1198.9 2007.9,1219 2009,1233.9 2010.1,1240 2011.3,1249.1 2012.5,1255.7 2013.4,1265.8 2014.2,1275.2 2016,1280.1 2017.6,1279.1 2019.5,1277.6 2021.7,1274.7 2023.1,1274.9 2024.5,1274 2026.1,1276.3 2027.6,1275.5 2029.3,1276.9 2030.9,1274.2 2032.1,1276.6 2033.4,1276.1 2034.6,1275.6 2035.9,1277.2 2037.2,1275.9 2038.5,1275 2039.8,1274.3 2041.1,1276.6 2042.4,1275 2043.7,1274.6 2045,1272.8 2046.3,1274.8 2047.6,1273.7 2048.9,1272.5 2050.2,1272.4 2051.4,1270.5 2052.7,1272.8 2053.9,1270.7 2055.2,1272.8 2056.4,1271.3 2057.7,1271.1 2058.9,1272.2 2060.2,1272 2061.4,1270.6 2063.1,1271.9" fill="none" stroke="#0000ff" stroke-width="3.4" stroke-linejoin="round" stroke-linecap="round"/>
<polyline points="1234,1534.9 1234.3,1534.6 1235.2,1531.3 1236.3,1530.7 1238.1,1530.5 1240.2,1528.8 1242.1,1529 1244,1519.8 1245.2,1514 1246.7,1508.4 1247.4,1508 1248.2,1508.9 1249,1509.8 1250.6,1513 1252.1,1517.3 1253.6,1522.1 1255,1517.3 1256.4,1508.4 1258.2,1507.5 1259.7,1506.1 1261.3,1506.6 1262.8,1509.2 1264.6,1503.2 1266.1,1495.4 1267.4,1496.2 1269,1500.1 1270.4,1507.5 1272,1512.7 1273.4,1510.9 1274.9,1507 1276.6,1502 1278.4,1499.7 1280.3,1499.7 1282.3,1494.5 1284.2,1495.7 1286.2,1498.8 1288.1,1501.9 1290.5,1496.1 1292.8,1494 1295,1486.8 1296.6,1488.4 1298.2,1492.3 1299.6,1492.1 1301.1,1487.4 1302.1,1480.3 1303,1476.1 1304,1479.8 1304.9,1488 1306.5,1495.4 1308.1,1492.5 1310,1488.3 1312.2,1488.3 1313.5,1485.4 1314.9,1487.3 1316.3,1488.7 1317.8,1488.5 1319,1487.8 1320.3,1489.3 1322.1,1485 1323.3,1480.1 1324.9,1475.8 1326.8,1478.4 1328.9,1475.2 1330.6,1476.7 1331.8,1470.2 1331.9,1462.1 1332.2,1459.9 1332.8,1460.8 1333.5,1464.2 1334.1,1466 1334,1477.5 1333.5,1489.6 1334.1,1496.4 1334.8,1498.1 1335.7,1499.3 1336.4,1498.6 1337.5,1510.3 1337.5,1519.4 1337.5,1534.4 1337.8,1538.3 1338.1,1550 1338.7,1555.5 1339.7,1564.7 1340.9,1568.4 1342.1,1573.1 1343.4,1589 1344.7,1596.4 1346,1601.8 1346.9,1596.1 1347.9,1582.8 1350.2,1570.7 1352,1570.7 1354.1,1567.4 1355.9,1571.8 1357.1,1561.5 1356.8,1551.1 1358.2,1544.9 1360.3,1543.9 1361.6,1544.3 1362.9,1542.9 1365.1,1543.8 1367,1538.8 1367.5,1530.5 1368.5,1520.8 1369.9,1517.5 1371.4,1514.7 1373.1,1512.7 1374.3,1510.9 1375.5,1509.3 1376.6,1508.7 1378,1513.4 1379.1,1516.6 1380,1521 1380.6,1534.5 1380.9,1539.8 1382.3,1545.3 1383.4,1544.4 1384.7,1542.3 1385.8,1545.7 1387,1546.3 1387.6,1550.7 1388.1,1556.9 1388.7,1566.9 1388.9,1577.7 1389.2,1589.9 1389.8,1608.3 1390.5,1621.9 1391.5,1634.4 1392.5,1647.8 1393.7,1657 1395,1665.8 1396.1,1672.4 1397.3,1676.7 1398.4,1684.9 1399.2,1692 1399.7,1702.9 1400.7,1713.5 1401.8,1716.1 1403.1,1722.9 1404.2,1723.2 1404.8,1722.7 1405.4,1714.7 1406.5,1712.4 1408.2,1707.8 1410.3,1708.4 1412.2,1707.2 1414.5,1700.1 1415.7,1691.5 1416.8,1680.1 1418.1,1663.5 1419.3,1652.2 1420.3,1642.4 1421.3,1624.9 1422,1605.1 1422.6,1590.6 1422.8,1569.6 1422.9,1551.2 1423.7,1535.2 1424.7,1530.8 1426,1529.7 1427.2,1521.6 1428.3,1511.8 1429.3,1505.9 1430.6,1492.7 1432,1488.2 1433.6,1483.7 1435.2,1480.2 1436.8,1472.7 1438.3,1468.7 1439.8,1463.1 1441,1466.3 1442.1,1470.2 1443.2,1473.7 1444.7,1483.7 1446.3,1496.9 1447.7,1497.5 1449,1504.9 1450.8,1506.6 1452.9,1507.5 1454.8,1507.1 1456.5,1505.6 1458,1501.4 1459.4,1501.3 1461.1,1501 1462.8,1510.8 1465.1,1512.8 1466.4,1515.4 1467.7,1514.5 1469.1,1514.7 1470.6,1514.3 1471.9,1518 1473.2,1514.8 1475.4,1517.2 1477.2,1522.7 1478.9,1526 1480.4,1528.5 1481.9,1529.7 1483.5,1531.5 1485.8,1532.9 1487.1,1528.6 1488.4,1529.8 1490.4,1526.7 1491.4,1519.5 1491.6,1510.1 1492.7,1510.1 1494.1,1507.1 1495.7,1507.7 1497.3,1506.6 1498.7,1503.5 1500.1,1502.2 1501.4,1499.5 1502.7,1494.5 1504.1,1494.2 1505.4,1493.9 1506.7,1494.1 1508,1494.6 1509.4,1499.1 1510.7,1501.6 1512,1503.9 1513.4,1503.7 1515.4,1503.8 1517.4,1508.9 1519.2,1509.6 1520.6,1513.1 1521.9,1518.5 1524.1,1527.7 1526.1,1532.7 1527.5,1532.6 1528.8,1520.5 1530.6,1520 1532.5,1521.3 1534.6,1524.9 1536.4,1523.7 1537.8,1520.9 1538.3,1512.5 1538.7,1507.2 1538.8,1495.3 1538.7,1488.1 1539.9,1481.9 1541.7,1479.3 1543.8,1476.9 1545.6,1479 1547.1,1481.4 1547,1497.1 1546.8,1511.2 1547,1538.4 1547.1,1569 1547.9,1597.4 1548.9,1605.3 1550.2,1619.6 1551.4,1624.2 1552.6,1615.5 1553.7,1601.3 1554.8,1588.1 1555.4,1582.6 1556,1581.5 1557.1,1570.6 1558.5,1572.1 1560.3,1568.5 1561.7,1569.7 1562.8,1558.9 1562.9,1545.8 1564,1538.6 1565.4,1537.1 1567.2,1535.1 1568.6,1531.1 1569.6,1526.5 1570,1519.6 1570.9,1514.8 1572.7,1509.1 1574.8,1503.9 1576.6,1500.5 1577.5,1503.9 1578.2,1504.9 1578.9,1508.3 1580.1,1520.2 1581.1,1534.9 1582.4,1548.1 1583.9,1553 1585.7,1564.4 1587,1570.1 1587.7,1580.1 1587.8,1586.9 1588.1,1597.9 1588.3,1607.2 1588.7,1617.1 1590.4,1627.1 1592.2,1625.3 1594.4,1628.1 1596.2,1626.4 1598.1,1638 1598.7,1648.1 1599.6,1657.4 1600.9,1665.5 1602.4,1670.2 1604.2,1678 1606,1684.9 1608.1,1685.2 1610,1692.7 1611.7,1690.1 1613.3,1682.1 1614.6,1675.1 1615.7,1668.2 1616.3,1660.6 1616.9,1653.2 1617.7,1646.7 1618.5,1630 1619.2,1620.9 1620,1608.7 1620.8,1592.1 1621.5,1580.3 1621.9,1570.7 1622.2,1558 1622.6,1550.5 1623.2,1542.5 1624,1530 1624.9,1519.8 1625.7,1512.3 1626.6,1502.4 1628.4,1492.3 1629.6,1489.9 1630.8,1487 1632.3,1484.6 1633.7,1482.6 1635.1,1478.9 1636.4,1476.5 1638.4,1479.5 1640.1,1491.7 1642.2,1493.9 1643.8,1495.2 1645.4,1500.3 1646.9,1499.7 1648.5,1508.4 1649.4,1513.9 1650.3,1517.7 1651.3,1513.8 1652.4,1507.8 1653.8,1503.2 1656,1506 1657.2,1512 1658.5,1513.9 1660.7,1517.1 1662.5,1526.6 1663.8,1534.7 1665.3,1540.6 1667.1,1553.7 1669.1,1560.2 1671,1569.3 1672.5,1573.8 1673.9,1580.2 1675.6,1586.4 1677.1,1583.6 1678.8,1579.5 1680.2,1576 1681.5,1567.4 1682,1556 1682.5,1543.7 1682.7,1529.7 1682.9,1517.8 1684.8,1504.4 1686.5,1499.7 1688.6,1502.3 1690.6,1497.3 1692.5,1493.9 1694.4,1492.3 1696.3,1490.3 1697.9,1495.8 1699.5,1493.7 1700.9,1493.6 1702.8,1490.2 1704.3,1483.2 1705.5,1477.7 1706.6,1483.6 1707.5,1494.3 1709,1503.6 1710.5,1503.6 1712.1,1507.8 1713.6,1509.9 1715.5,1518.8 1716.8,1528.1 1718.2,1537.6 1719.8,1548.6 1721.4,1555.4 1722.8,1561.3 1724,1571 1724.9,1583.7 1726.2,1595.2 1727.7,1600.6 1729.4,1611.2 1730.8,1611.1 1732,1602.3 1732.6,1583.1 1733.1,1563.9 1733.8,1539.1 1734.6,1519.8 1735.4,1502.2 1736.2,1484.9 1737,1475.9 1737.7,1471.5 1738.5,1491 1739,1524.3 1739.5,1539.9 1740.1,1527.4 1740.7,1493.6 1741.2,1477.5 1741.3,1507.1 1741.1,1561.2 1741.2,1611.2 1741.8,1655 1742.6,1693.5 1743.5,1710.6 1744.2,1692.7 1744.9,1661.6 1745.8,1644.8 1746.5,1654.8 1747.3,1669.3 1748.1,1676.5 1748.9,1665.8 1749.6,1645.7 1750.4,1622.7 1751.1,1615 1751.9,1611.9 1752.7,1600.4 1753.4,1590.6 1754,1582.9 1755,1568.8 1756.4,1565.9 1758.1,1553.9 1759.6,1547.3 1760.4,1541.2 1761,1536.6 1761.9,1531.4 1763.7,1524.3 1766,1512.6 1767.4,1512 1768.8,1508.4 1770.3,1505.3 1772,1508 1773.4,1508.6 1774.9,1514.6 1775.3,1523.9 1775.7,1533 1776.5,1542.1 1777.3,1547.5 1778,1559.8 1778.4,1568.4 1778.7,1581 1779.1,1587.2 1779.8,1598 1780.6,1608.8 1781.4,1621 1782.2,1630.2 1783,1644.1 1783.7,1656.4 1784,1668.6 1784.2,1680.2 1784.9,1690.3 1785.8,1698.2 1787,1702.4 1788.3,1709.6 1789.8,1703.8 1791.4,1693.6 1792.9,1688.4 1794.1,1682.7 1795.2,1673.5 1796.4,1670.2 1797.9,1670.9 1799.5,1685.1 1801,1691.2 1802.2,1693.9 1803.3,1701.8 1804.4,1707.1 1805.6,1703.1 1806.8,1694.8 1807.9,1690.2 1808.9,1683.8 1809.6,1678 1810.2,1666.2 1810.7,1654.4 1810.9,1639.3 1811.3,1626.8 1812,1614.1 1812.9,1602.9 1813.6,1592.4 1814,1584.2 1814.4,1577.9 1814.8,1566.8 1815.5,1559.3 1816.3,1549.3 1817.1,1539.6 1817.8,1532.2 1818.5,1530.2 1819.4,1522.7 1820.4,1516.5 1821.5,1512 1822.8,1504.9 1823.9,1498.9 1825.1,1495.5 1826.3,1494.2 1827.5,1500.4 1828.7,1502.1 1829.7,1504.4 1830.8,1501.5 1831.8,1491.8 1833.1,1481 1834.3,1476.9 1835.7,1470.4 1837.7,1465.7 1839.2,1465.2 1840.8,1468 1842.3,1468.8 1844.4,1475.6 1845.4,1484 1846.9,1495.3 1848,1493.9 1849.2,1494.7 1850.4,1500.6 1852,1495 1853.5,1487 1855,1484.1 1857.2,1492.2 1859.5,1504.5 1861.9,1512.2 1863.8,1508 1865.7,1499.5 1867.6,1493.7 1869.5,1497.3 1871.3,1514.2 1873.4,1515.3 1875.6,1512.2 1877.9,1506.4 1880.3,1497.9 1882.7,1491.3 1885.1,1486.6 1887.2,1481.8 1888.7,1482.6 1890,1491.6 1891.8,1497.9 1893.9,1504 1895.2,1502.6 1896.4,1504.3 1898.7,1504.7 1900.6,1505 1902.4,1499.4 1904.4,1496.8 1906.7,1497.8 1907.9,1496 1909.2,1498.6 1911.3,1501 1913,1515.8 1913.3,1530 1914.8,1537.3 1916.2,1542 1917.9,1542.5 1919.4,1544.2 1920.8,1550.5 1922.3,1554 1924.6,1568.7 1926.3,1575.1 1926.9,1567.6 1926.9,1551.5 1927.4,1541.2 1928.4,1535.2 1929.7,1529.7 1930.9,1523.1 1932.1,1522.6 1933.3,1512.6 1934.3,1509.8 1935.2,1526.9 1935.3,1560.7 1936.6,1580.3 1937.3,1579 1938.2,1583.1 1938.9,1585.3 1939.6,1601.6 1939.4,1628.6 1941.2,1639.9 1942.3,1641.6 1943.6,1639.9 1944.7,1641.7 1946.5,1634.1 1947.3,1626.8 1948.1,1615.4 1949.3,1601.7 1950.5,1586.8 1951.6,1569.1 1952.6,1556.9 1953.6,1544.3 1955,1532 1955.8,1528.7 1956.8,1523.5 1958.5,1517.6 1960.7,1519.6 1962,1517.4 1963.2,1518.5 1965.4,1518.3 1967.3,1504.3 1966.8,1488.7 1966.5,1474.9 1967,1463.9 1967.7,1451.7 1968.4,1450.7 1969.1,1452.5 1969.9,1458.7 1970.6,1466.3 1970.9,1488.8 1970.7,1514.3 1971.1,1539.9 1972.1,1549.3 1973.4,1558.3 1974.6,1565.7 1975.4,1573.5 1976.2,1572.1 1976.9,1579.7 1977.8,1594.7 1978.4,1608.8 1979.2,1623.5 1980.2,1638 1981.3,1646.5 1982.6,1658.5 1984,1668.9 1985.6,1676.5 1987.2,1685.8 1988.7,1698.7 1990.2,1712.4 1991.6,1713.5 1993,1719.5 1994.8,1719.9 1996.9,1719.9 1998.7,1717.9 2000.7,1719.5 2002.1,1712.4 2003.3,1705.3 2005.1,1686.9 2006,1667.5 2006.8,1641.9 2007.5,1620 2008.1,1599.1 2009,1580.7 2010.1,1567.8 2011.3,1551.9 2012.5,1544.4 2013.3,1538.1 2014.1,1533.8 2014.8,1525.1 2015.5,1507.6 2016,1484.8 2017.1,1469.6 2018.4,1476 2020.1,1488.9 2021.7,1495.2 2023.2,1488.1 2024.8,1479.8 2026.3,1470.4 2027.8,1479.5 2029.3,1488.7 2030.9,1494.8 2032.2,1490.1 2033.4,1482.2 2035.5,1474.4 2037.3,1475.6 2039.3,1469.5 2041.2,1473.1 2043.3,1475 2045,1484.5 2047,1484.8 2049.2,1489.2 2050.4,1490 2051.6,1492.2 2053.9,1493.4 2055.2,1494.4 2056.4,1498.5 2058.7,1506.3 2060.8,1508.4 2062.8,1502.5 2064.6,1495.1 2065.4,1493.4" fill="none" stroke="#ff00ff" stroke-width="3.4" stroke-linejoin="round" stroke-linecap="round"/>
<line x1="1376.6" y1="136.4" x2="1378.4" y2="1748" stroke="#000" stroke-width="4"/>
<line x1="1405.4" y1="136.4" x2="1407.4" y2="1740" stroke="#000" stroke-width="4" stroke-dasharray="20 5"/>
<line x1="1430" y1="136.4" x2="1432.2" y2="1753" stroke="#000" stroke-width="4" stroke-dasharray="25.5 7.2 4 7 4 5.1"/>
<line x1="1474" y1="138" x2="1476" y2="1741" stroke="#000" stroke-width="6" stroke-dasharray="0.01 13.2" stroke-linecap="round"/>
<text transform="translate(1084,319.8) rotate(-90)" font-size="35" font-weight="bold" text-anchor="middle" textLength="192" lengthAdjust="spacingAndGlyphs">Height (nm)</text>
<text transform="translate(1102.8,726.3) rotate(-90)" font-size="37" font-weight="bold" text-anchor="middle" textLength="342" lengthAdjust="spacingAndGlyphs">Adhesion Force (nN)</text>
<text transform="translate(1102.8,1147.9) rotate(-90)" font-size="37" font-weight="bold" text-anchor="middle" textLength="288" lengthAdjust="spacingAndGlyphs">Deformation (nm)</text>
<text transform="translate(1086.3,1560.2) rotate(-90)" font-size="37" font-weight="bold" text-anchor="middle" textLength="339" lengthAdjust="spacingAndGlyphs">Young Modus (MPa)</text>
<text x="1233.6" y="1793" font-size="29" font-weight="bold" text-anchor="middle">0</text>
<text x="1424.1" y="1793" font-size="29" font-weight="bold" text-anchor="middle">1</text>
<text x="1614.6" y="1793" font-size="29" font-weight="bold" text-anchor="middle">2</text>
<text x="1805.1" y="1793" font-size="29" font-weight="bold" text-anchor="middle">3</text>
<text x="1995.6" y="1793" font-size="29" font-weight="bold" text-anchor="middle">4</text>
<text x="1548" y="1858.4" font-size="35" font-weight="bold" textLength="200.7" lengthAdjust="spacingAndGlyphs">Length (µm)</text>
<line x1="1207" y1="34.5" x2="1356.5" y2="34.5" stroke="#111" stroke-width="5"/>
<line x1="1207" y1="99.3" x2="1351" y2="99.3" stroke="#111" stroke-width="5" stroke-dasharray="17.5 13.6"/>
<line x1="1636" y1="34.3" x2="1774" y2="34.3" stroke="#111" stroke-width="5" stroke-dasharray="35.5 13.5 3.5 14.8 3.5 13.5"/>
<line x1="1636" y1="100.5" x2="1790" y2="100.5" stroke="#111" stroke-width="5" stroke-dasharray="5 8.4"/>
<text x="1389.5" y="45.7" font-size="38" font-weight="bold" lengthAdjust="spacingAndGlyphs" textLength="152.5">TOP HILL</text>
<text x="1394.5" y="112.7" font-size="38" font-weight="bold" lengthAdjust="spacingAndGlyphs" textLength="181.5">MIDSLOPE</text>
<text x="1813.5" y="43.6" font-size="39.5" font-weight="bold" lengthAdjust="spacingAndGlyphs" textLength="293">BOTTOM VALLEY</text>
<text x="1816" y="106.6" font-size="39.5" font-weight="bold" lengthAdjust="spacingAndGlyphs" textLength="174">BASE LINE</text>
</svg></body></html>
